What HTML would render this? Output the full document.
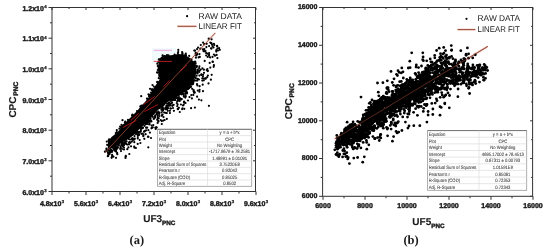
<!DOCTYPE html>
<html><head><meta charset="utf-8"><style>
html,body{margin:0;padding:0;background:#fff}
body{width:550px;height:252px;overflow:hidden;font-family:"Liberation Sans",sans-serif}
svg{display:block;will-change:transform;text-rendering:geometricPrecision}
</style></head><body>
<svg width="550" height="252" viewBox="0 0 550 252">
<rect width="550" height="252" fill="#fff"/>
<rect x="152" y="48" width="24" height="16" fill="#f2fbfb"/>
<line x1="153.7" y1="50.3" x2="172" y2="50.3" stroke="#f08ad8" stroke-width="0.8"/>
<line x1="105" y1="152.6" x2="215.3" y2="32.9" stroke="#f4c6c0" stroke-width="2.6" opacity="0.5"/>
<polygon points="107.5,153.0 108.0,141.5 111.5,137.0 116.0,133.5 119.5,130.0 122.0,125.0 125.5,122.5 129.0,119.0 132.5,115.5 137.5,110.5 141.0,106.0 145.0,102.0 149.0,97.0 153.0,89.0 156.5,84.0 160.0,79.0 159.5,75.5 158.0,71.0 157.5,67.5 158.5,64.0 159.5,59.0 161.0,57.0 164.0,55.0 168.6,55.5 173.0,55.0 178.0,54.0 184.0,54.5 190.0,58.0 195.0,63.0 196.5,70.0 195.5,77.0 192.0,83.0 188.0,88.0 184.0,92.5 179.0,96.0 173.0,98.5 168.5,101.5 165.5,104.0 162.5,108.0 158.5,109.5 155.0,113.5 151.0,118.0 147.0,122.5 143.0,126.0 138.5,130.0 134.5,134.5 128.5,139.0 121.5,143.0 114.5,147.0 109.5,149.5" fill="#000"/>
<g fill="#000"><circle cx="157.7" cy="117.0" r="1.1"/><circle cx="108.6" cy="140.5" r="1.1"/><circle cx="183.8" cy="95.7" r="1.1"/><circle cx="137.8" cy="138.5" r="1.1"/><circle cx="125.3" cy="143.4" r="1.1"/><circle cx="199.7" cy="70.6" r="1.1"/><circle cx="146.1" cy="127.7" r="1.1"/><circle cx="162.7" cy="107.8" r="1.1"/><circle cx="112.1" cy="154.9" r="1.1"/><circle cx="116.0" cy="157.8" r="1.1"/><circle cx="134.2" cy="146.6" r="1.1"/><circle cx="173.8" cy="98.2" r="1.1"/><circle cx="106.6" cy="150.2" r="1.1"/><circle cx="200.7" cy="69.6" r="1.1"/><circle cx="183.9" cy="102.3" r="1.1"/><circle cx="187.6" cy="88.8" r="1.1"/><circle cx="197.0" cy="80.7" r="1.1"/><circle cx="157.6" cy="123.0" r="1.1"/><circle cx="149.1" cy="96.5" r="1.1"/><circle cx="190.0" cy="86.3" r="1.1"/><circle cx="166.5" cy="107.2" r="1.1"/><circle cx="158.3" cy="62.0" r="1.1"/><circle cx="177.9" cy="53.1" r="1.1"/><circle cx="195.7" cy="78.0" r="1.1"/><circle cx="158.8" cy="78.2" r="1.1"/><circle cx="139.1" cy="134.8" r="1.1"/><circle cx="116.6" cy="149.2" r="1.1"/><circle cx="124.9" cy="122.7" r="1.1"/><circle cx="168.0" cy="105.5" r="1.1"/><circle cx="145.8" cy="124.1" r="1.1"/><circle cx="157.9" cy="115.3" r="1.1"/><circle cx="131.0" cy="146.3" r="1.1"/><circle cx="182.5" cy="53.2" r="1.1"/><circle cx="175.1" cy="97.6" r="1.1"/><circle cx="198.1" cy="79.3" r="1.1"/><circle cx="126.6" cy="141.4" r="1.1"/><circle cx="157.8" cy="70.0" r="1.1"/><circle cx="178.4" cy="98.2" r="1.1"/><circle cx="171.6" cy="100.3" r="1.1"/><circle cx="182.2" cy="109.2" r="1.1"/><circle cx="177.7" cy="98.5" r="1.1"/><circle cx="127.3" cy="149.2" r="1.1"/><circle cx="194.6" cy="80.5" r="1.1"/><circle cx="148.5" cy="136.8" r="1.1"/><circle cx="199.4" cy="66.3" r="1.1"/><circle cx="149.3" cy="121.2" r="1.1"/><circle cx="125.7" cy="156.5" r="1.1"/><circle cx="197.4" cy="71.5" r="1.1"/><circle cx="112.8" cy="156.5" r="1.1"/><circle cx="144.0" cy="131.5" r="1.1"/><circle cx="130.2" cy="139.5" r="1.1"/><circle cx="190.4" cy="86.9" r="1.1"/><circle cx="132.5" cy="115.3" r="1.1"/><circle cx="166.4" cy="105.5" r="1.1"/><circle cx="173.6" cy="100.0" r="1.1"/><circle cx="198.9" cy="79.5" r="1.1"/><circle cx="124.1" cy="144.9" r="1.1"/><circle cx="155.2" cy="116.7" r="1.1"/><circle cx="201.4" cy="100.3" r="1.1"/><circle cx="194.0" cy="92.7" r="1.1"/><circle cx="143.4" cy="135.2" r="1.1"/><circle cx="177.3" cy="106.2" r="1.1"/><circle cx="151.7" cy="89.9" r="1.1"/><circle cx="185.3" cy="97.6" r="1.1"/><circle cx="178.2" cy="52.1" r="1.1"/><circle cx="178.9" cy="107.8" r="1.1"/><circle cx="197.0" cy="84.2" r="1.1"/><circle cx="116.8" cy="132.2" r="1.1"/><circle cx="144.6" cy="125.8" r="1.1"/><circle cx="140.8" cy="130.1" r="1.1"/><circle cx="150.7" cy="120.8" r="1.1"/><circle cx="174.6" cy="54.5" r="1.1"/><circle cx="151.5" cy="128.3" r="1.1"/><circle cx="115.4" cy="147.7" r="1.1"/><circle cx="157.3" cy="63.7" r="1.1"/><circle cx="130.4" cy="142.8" r="1.1"/><circle cx="158.3" cy="120.9" r="1.1"/><circle cx="189.3" cy="86.5" r="1.1"/><circle cx="138.8" cy="134.4" r="1.1"/><circle cx="114.9" cy="148.4" r="1.1"/><circle cx="163.7" cy="108.5" r="1.1"/><circle cx="199.1" cy="68.1" r="1.1"/><circle cx="158.9" cy="112.8" r="1.1"/><circle cx="197.4" cy="85.5" r="1.1"/><circle cx="167.2" cy="108.4" r="1.1"/><circle cx="184.5" cy="102.7" r="1.1"/><circle cx="166.8" cy="118.9" r="1.1"/><circle cx="138.6" cy="134.8" r="1.1"/><circle cx="148.4" cy="130.2" r="1.1"/><circle cx="106.4" cy="148.7" r="1.1"/><circle cx="192.3" cy="83.6" r="1.1"/><circle cx="116.1" cy="151.2" r="1.1"/><circle cx="158.4" cy="121.6" r="1.1"/><circle cx="176.7" cy="97.3" r="1.1"/><circle cx="159.2" cy="74.7" r="1.1"/><circle cx="181.6" cy="94.3" r="1.1"/><circle cx="178.7" cy="100.6" r="1.1"/><circle cx="165.9" cy="109.3" r="1.1"/><circle cx="162.7" cy="110.8" r="1.1"/><circle cx="167.8" cy="108.3" r="1.1"/><circle cx="109.0" cy="153.2" r="1.1"/><circle cx="181.4" cy="99.3" r="1.1"/><circle cx="167.7" cy="107.9" r="1.1"/><circle cx="182.6" cy="93.8" r="1.1"/><circle cx="158.0" cy="72.7" r="1.1"/><circle cx="125.9" cy="141.6" r="1.1"/><circle cx="142.9" cy="127.8" r="1.1"/><circle cx="185.8" cy="96.2" r="1.1"/><circle cx="137.7" cy="134.9" r="1.1"/><circle cx="178.5" cy="99.5" r="1.1"/><circle cx="187.1" cy="92.9" r="1.1"/><circle cx="132.9" cy="139.3" r="1.1"/><circle cx="197.5" cy="69.7" r="1.1"/><circle cx="161.8" cy="121.1" r="1.1"/><circle cx="138.2" cy="132.1" r="1.1"/><circle cx="178.5" cy="99.4" r="1.1"/><circle cx="189.1" cy="88.2" r="1.1"/><circle cx="129.0" cy="144.4" r="1.1"/><circle cx="190.5" cy="86.6" r="1.1"/><circle cx="149.9" cy="94.9" r="1.1"/><circle cx="120.9" cy="127.1" r="1.1"/><circle cx="117.1" cy="152.9" r="1.1"/><circle cx="169.9" cy="113.1" r="1.1"/><circle cx="135.9" cy="148.0" r="1.1"/><circle cx="169.0" cy="102.5" r="1.1"/><circle cx="192.4" cy="84.2" r="1.1"/><circle cx="177.2" cy="101.2" r="1.1"/><circle cx="190.6" cy="86.9" r="1.1"/><circle cx="106.8" cy="151.0" r="1.1"/><circle cx="176.8" cy="98.1" r="1.1"/><circle cx="132.5" cy="138.4" r="1.1"/><circle cx="153.3" cy="125.1" r="1.1"/><circle cx="194.3" cy="91.8" r="1.1"/><circle cx="160.7" cy="120.0" r="1.1"/><circle cx="128.9" cy="139.0" r="1.1"/><circle cx="109.1" cy="139.4" r="1.1"/><circle cx="201.4" cy="74.9" r="1.1"/><circle cx="158.5" cy="111.5" r="1.1"/><circle cx="202.9" cy="76.6" r="1.1"/><circle cx="162.5" cy="108.6" r="1.1"/><circle cx="203.8" cy="80.3" r="1.1"/><circle cx="162.5" cy="114.5" r="1.1"/><circle cx="183.4" cy="94.1" r="1.1"/><circle cx="197.5" cy="71.9" r="1.1"/><circle cx="122.5" cy="120.2" r="1.1"/><circle cx="148.1" cy="121.9" r="1.1"/><circle cx="199.4" cy="75.6" r="1.1"/><circle cx="202.3" cy="78.3" r="1.1"/><circle cx="167.0" cy="109.0" r="1.1"/><circle cx="182.3" cy="54.2" r="1.1"/><circle cx="157.5" cy="81.9" r="1.1"/><circle cx="154.9" cy="117.4" r="1.1"/><circle cx="157.8" cy="65.9" r="1.1"/><circle cx="132.1" cy="115.6" r="1.1"/><circle cx="134.5" cy="136.1" r="1.1"/><circle cx="164.6" cy="120.0" r="1.1"/><circle cx="199.6" cy="86.2" r="1.1"/><circle cx="152.8" cy="116.8" r="1.1"/><circle cx="193.1" cy="81.9" r="1.1"/><circle cx="155.7" cy="128.9" r="1.1"/><circle cx="140.3" cy="106.4" r="1.1"/><circle cx="181.7" cy="99.1" r="1.1"/><circle cx="163.2" cy="120.6" r="1.1"/><circle cx="167.1" cy="108.6" r="1.1"/><circle cx="161.8" cy="124.1" r="1.1"/><circle cx="141.1" cy="128.3" r="1.1"/><circle cx="204.0" cy="72.8" r="1.1"/><circle cx="136.0" cy="134.1" r="1.1"/><circle cx="128.0" cy="119.9" r="1.1"/><circle cx="141.2" cy="128.1" r="1.1"/><circle cx="119.4" cy="128.7" r="1.1"/><circle cx="110.9" cy="151.1" r="1.1"/><circle cx="117.3" cy="154.2" r="1.1"/><circle cx="116.8" cy="130.2" r="1.1"/><circle cx="188.5" cy="88.2" r="1.1"/><circle cx="153.8" cy="86.5" r="1.1"/><circle cx="163.5" cy="117.1" r="1.1"/><circle cx="121.6" cy="143.0" r="1.1"/><circle cx="107.8" cy="156.2" r="1.1"/><circle cx="114.1" cy="148.9" r="1.1"/><circle cx="134.5" cy="147.7" r="1.1"/><circle cx="161.4" cy="109.7" r="1.1"/><circle cx="114.3" cy="150.4" r="1.1"/><circle cx="134.8" cy="138.7" r="1.1"/><circle cx="118.7" cy="145.0" r="1.1"/><circle cx="159.4" cy="116.0" r="1.1"/><circle cx="169.1" cy="105.7" r="1.1"/><circle cx="136.0" cy="132.9" r="1.1"/><circle cx="141.6" cy="128.7" r="1.1"/><circle cx="208.5" cy="83.4" r="1.1"/><circle cx="148.5" cy="121.5" r="1.1"/><circle cx="115.8" cy="133.1" r="1.1"/><circle cx="134.2" cy="139.6" r="1.1"/><circle cx="139.2" cy="132.2" r="1.1"/><circle cx="195.6" cy="65.4" r="1.1"/><circle cx="191.1" cy="108.2" r="1.1"/><circle cx="192.0" cy="83.8" r="1.1"/><circle cx="164.2" cy="112.6" r="1.1"/><circle cx="110.1" cy="152.6" r="1.1"/><circle cx="166.8" cy="108.4" r="1.1"/><circle cx="186.8" cy="93.6" r="1.1"/><circle cx="186.2" cy="90.5" r="1.1"/><circle cx="161.5" cy="112.4" r="1.1"/><circle cx="158.8" cy="59.6" r="1.1"/><circle cx="184.1" cy="101.7" r="1.1"/><circle cx="199.6" cy="89.8" r="1.1"/><circle cx="199.2" cy="72.0" r="1.1"/><circle cx="173.9" cy="110.8" r="1.1"/><circle cx="147.6" cy="122.8" r="1.1"/><circle cx="183.9" cy="96.7" r="1.1"/><circle cx="137.7" cy="143.9" r="1.1"/><circle cx="207.4" cy="69.0" r="1.1"/><circle cx="170.4" cy="101.0" r="1.1"/><circle cx="163.6" cy="109.3" r="1.1"/><circle cx="193.5" cy="91.1" r="1.1"/><circle cx="159.2" cy="59.4" r="1.1"/><circle cx="111.7" cy="150.0" r="1.1"/><circle cx="172.2" cy="99.9" r="1.1"/><circle cx="152.3" cy="89.5" r="1.1"/><circle cx="106.8" cy="150.1" r="1.1"/><circle cx="180.1" cy="98.4" r="1.1"/><circle cx="177.6" cy="98.4" r="1.1"/><circle cx="189.5" cy="97.1" r="1.1"/><circle cx="112.0" cy="156.3" r="1.1"/><circle cx="132.1" cy="139.3" r="1.1"/><circle cx="185.2" cy="94.1" r="1.1"/><circle cx="157.5" cy="113.0" r="1.1"/><circle cx="125.8" cy="155.9" r="1.1"/><circle cx="208.9" cy="105.8" r="1.1"/><circle cx="159.2" cy="114.0" r="1.1"/><circle cx="109.3" cy="151.0" r="1.1"/><circle cx="120.2" cy="148.9" r="1.1"/><circle cx="111.9" cy="150.9" r="1.1"/><circle cx="114.0" cy="148.0" r="1.1"/><circle cx="195.2" cy="61.5" r="1.1"/><circle cx="193.0" cy="83.8" r="1.1"/><circle cx="144.3" cy="138.8" r="1.1"/><circle cx="168.9" cy="103.2" r="1.1"/><circle cx="170.3" cy="105.4" r="1.1"/><circle cx="115.8" cy="148.7" r="1.1"/><circle cx="142.9" cy="127.7" r="1.1"/><circle cx="171.6" cy="103.3" r="1.1"/><circle cx="197.0" cy="72.7" r="1.1"/><circle cx="179.8" cy="99.4" r="1.1"/><circle cx="150.5" cy="118.6" r="1.1"/><circle cx="162.6" cy="55.3" r="1.1"/><circle cx="146.8" cy="123.5" r="1.1"/><circle cx="137.8" cy="137.0" r="1.1"/><circle cx="196.6" cy="67.1" r="1.1"/><circle cx="108.6" cy="154.2" r="1.1"/><circle cx="187.3" cy="89.2" r="1.1"/><circle cx="191.9" cy="98.4" r="1.1"/><circle cx="120.1" cy="126.5" r="1.1"/><circle cx="145.1" cy="130.8" r="1.1"/><circle cx="137.1" cy="132.9" r="1.1"/><circle cx="123.9" cy="147.5" r="1.1"/><circle cx="106.8" cy="141.6" r="1.1"/><circle cx="193.3" cy="82.1" r="1.1"/><circle cx="113.4" cy="156.6" r="1.1"/><circle cx="139.7" cy="140.0" r="1.1"/><circle cx="151.0" cy="138.0" r="1.1"/><circle cx="149.6" cy="95.1" r="1.1"/><circle cx="203.9" cy="69.7" r="1.1"/><circle cx="188.1" cy="88.8" r="1.1"/><circle cx="159.3" cy="76.1" r="1.1"/><circle cx="168.3" cy="105.4" r="1.1"/><circle cx="115.8" cy="146.6" r="1.1"/><circle cx="191.3" cy="95.1" r="1.1"/><circle cx="124.0" cy="149.4" r="1.1"/><circle cx="204.0" cy="78.6" r="1.1"/><circle cx="110.5" cy="150.1" r="1.1"/><circle cx="190.7" cy="86.6" r="1.1"/><circle cx="152.8" cy="127.3" r="1.1"/><circle cx="151.0" cy="92.7" r="1.1"/><circle cx="207.2" cy="77.2" r="1.1"/><circle cx="174.8" cy="98.7" r="1.1"/><circle cx="132.7" cy="139.0" r="1.1"/><circle cx="140.8" cy="131.4" r="1.1"/><circle cx="194.9" cy="107.6" r="1.1"/><circle cx="115.1" cy="148.7" r="1.1"/><circle cx="122.2" cy="142.7" r="1.1"/><circle cx="182.5" cy="108.3" r="1.1"/><circle cx="118.5" cy="145.4" r="1.1"/><circle cx="114.7" cy="149.2" r="1.1"/><circle cx="121.0" cy="151.1" r="1.1"/><circle cx="154.3" cy="118.2" r="1.1"/><circle cx="155.2" cy="115.4" r="1.1"/><circle cx="156.5" cy="127.4" r="1.1"/><circle cx="184.3" cy="108.8" r="1.1"/><circle cx="125.2" cy="141.5" r="1.1"/><circle cx="143.3" cy="136.2" r="1.1"/><circle cx="168.5" cy="55.4" r="1.1"/><circle cx="144.3" cy="131.6" r="1.1"/><circle cx="118.6" cy="145.2" r="1.1"/><circle cx="140.4" cy="143.0" r="1.1"/><circle cx="147.3" cy="123.8" r="1.1"/><circle cx="107.9" cy="152.8" r="1.1"/><circle cx="157.5" cy="112.7" r="1.1"/><circle cx="139.8" cy="132.6" r="1.1"/><circle cx="177.6" cy="104.3" r="1.1"/><circle cx="194.2" cy="61.9" r="1.1"/><circle cx="165.8" cy="107.8" r="1.1"/><circle cx="150.5" cy="120.2" r="1.1"/><circle cx="207.9" cy="75.5" r="1.1"/><circle cx="123.0" cy="146.7" r="1.1"/><circle cx="172.0" cy="102.4" r="1.1"/><circle cx="179.8" cy="112.0" r="1.1"/><circle cx="148.5" cy="94.4" r="1.1"/><circle cx="186.8" cy="92.2" r="1.1"/><circle cx="134.3" cy="142.2" r="1.1"/><circle cx="185.4" cy="54.9" r="1.1"/><circle cx="185.8" cy="53.5" r="1.1"/><circle cx="120.6" cy="146.9" r="1.1"/><circle cx="175.1" cy="100.0" r="1.1"/><circle cx="117.4" cy="147.3" r="1.1"/><circle cx="121.2" cy="145.2" r="1.1"/><circle cx="129.0" cy="142.8" r="1.1"/><circle cx="115.3" cy="149.4" r="1.1"/><circle cx="122.4" cy="144.6" r="1.1"/><circle cx="203.0" cy="91.2" r="1.1"/><circle cx="156.9" cy="112.5" r="1.1"/><circle cx="170.9" cy="108.5" r="1.1"/><circle cx="193.3" cy="94.9" r="1.1"/><circle cx="145.6" cy="134.2" r="1.1"/><circle cx="172.1" cy="99.6" r="1.1"/><circle cx="126.2" cy="143.9" r="1.1"/><circle cx="179.0" cy="99.2" r="1.1"/><circle cx="157.0" cy="72.4" r="1.1"/><circle cx="108.6" cy="154.2" r="1.1"/><circle cx="124.5" cy="142.8" r="1.1"/><circle cx="152.0" cy="89.4" r="1.1"/><circle cx="149.1" cy="120.9" r="1.1"/><circle cx="108.2" cy="155.9" r="1.1"/><circle cx="193.2" cy="83.3" r="1.1"/><circle cx="137.0" cy="111.0" r="1.1"/><circle cx="190.8" cy="84.5" r="1.1"/><circle cx="122.2" cy="144.4" r="1.1"/><circle cx="123.9" cy="143.0" r="1.1"/><circle cx="189.2" cy="55.9" r="1.1"/><circle cx="133.0" cy="140.0" r="1.1"/><circle cx="186.0" cy="55.3" r="1.1"/><circle cx="148.3" cy="147.3" r="1.1"/><circle cx="197.2" cy="78.8" r="1.1"/><circle cx="117.6" cy="147.8" r="1.1"/><circle cx="153.7" cy="118.9" r="1.1"/><circle cx="198.1" cy="70.4" r="1.1"/><circle cx="123.4" cy="144.0" r="1.1"/><circle cx="192.4" cy="82.7" r="1.1"/><circle cx="178.3" cy="49.9" r="1.1"/><circle cx="155.3" cy="127.5" r="1.1"/><circle cx="195.6" cy="63.2" r="1.1"/><circle cx="109.8" cy="151.6" r="1.1"/><circle cx="122.0" cy="149.0" r="1.1"/><circle cx="199.4" cy="91.7" r="1.1"/><circle cx="129.3" cy="154.0" r="1.1"/><circle cx="156.6" cy="112.9" r="1.1"/><circle cx="157.2" cy="119.8" r="1.1"/><circle cx="169.7" cy="104.4" r="1.1"/><circle cx="172.3" cy="105.8" r="1.1"/><circle cx="179.0" cy="97.0" r="1.1"/><circle cx="167.0" cy="55.0" r="1.1"/><circle cx="166.8" cy="113.1" r="1.1"/><circle cx="141.5" cy="105.5" r="1.1"/><circle cx="202.3" cy="80.6" r="1.1"/><circle cx="207.7" cy="71.1" r="1.1"/><circle cx="193.8" cy="80.2" r="1.1"/><circle cx="156.7" cy="114.5" r="1.1"/><circle cx="157.2" cy="82.2" r="1.1"/><circle cx="112.9" cy="147.8" r="1.1"/><circle cx="151.6" cy="125.5" r="1.1"/><circle cx="137.7" cy="131.6" r="1.1"/><circle cx="165.6" cy="107.5" r="1.1"/><circle cx="198.9" cy="99.6" r="1.1"/><circle cx="129.6" cy="141.8" r="1.1"/><circle cx="167.3" cy="107.7" r="1.1"/><circle cx="179.7" cy="99.5" r="1.1"/><circle cx="149.0" cy="121.7" r="1.1"/><circle cx="172.6" cy="105.4" r="1.1"/><circle cx="147.2" cy="127.7" r="1.1"/><circle cx="197.1" cy="96.7" r="1.1"/><circle cx="111.9" cy="151.9" r="1.1"/><circle cx="180.9" cy="104.5" r="1.1"/><circle cx="176.4" cy="97.7" r="1.1"/><circle cx="114.2" cy="149.1" r="1.1"/><circle cx="185.1" cy="91.6" r="1.1"/><circle cx="197.6" cy="73.4" r="1.1"/><circle cx="196.9" cy="66.2" r="1.1"/><circle cx="147.5" cy="98.8" r="1.1"/><circle cx="202.4" cy="68.4" r="1.1"/><circle cx="111.6" cy="157.8" r="1.1"/><circle cx="159.9" cy="78.5" r="1.1"/><circle cx="193.7" cy="90.1" r="1.1"/><circle cx="132.5" cy="114.6" r="1.1"/><circle cx="159.2" cy="113.2" r="1.1"/><circle cx="149.2" cy="124.4" r="1.1"/><circle cx="116.2" cy="147.9" r="1.1"/><circle cx="170.6" cy="103.5" r="1.1"/><circle cx="107.2" cy="144.9" r="1.1"/><circle cx="157.7" cy="118.4" r="1.1"/><circle cx="149.8" cy="121.8" r="1.1"/><circle cx="173.5" cy="99.0" r="1.1"/><circle cx="133.3" cy="138.8" r="1.1"/><circle cx="138.3" cy="134.4" r="1.1"/><circle cx="146.1" cy="130.3" r="1.1"/><circle cx="167.1" cy="103.5" r="1.1"/><circle cx="147.7" cy="122.1" r="1.1"/><circle cx="127.2" cy="144.6" r="1.1"/><circle cx="180.9" cy="98.9" r="1.1"/><circle cx="146.9" cy="98.6" r="1.1"/><circle cx="149.6" cy="124.0" r="1.1"/><circle cx="120.7" cy="147.5" r="1.1"/><circle cx="152.1" cy="89.9" r="1.1"/><circle cx="131.9" cy="141.6" r="1.1"/><circle cx="163.0" cy="110.1" r="1.1"/><circle cx="201.4" cy="74.4" r="1.1"/><circle cx="110.4" cy="151.8" r="1.1"/><circle cx="121.5" cy="124.8" r="1.1"/><circle cx="123.3" cy="145.7" r="1.1"/><circle cx="191.6" cy="84.5" r="1.1"/><circle cx="170.3" cy="108.4" r="1.1"/><circle cx="104.9" cy="151.7" r="1.1"/><circle cx="195.3" cy="77.5" r="1.1"/><circle cx="158.7" cy="118.2" r="1.1"/><circle cx="109.5" cy="154.1" r="1.1"/><circle cx="147.9" cy="136.7" r="1.1"/><circle cx="151.4" cy="121.4" r="1.1"/><circle cx="146.3" cy="123.8" r="1.1"/><circle cx="128.4" cy="147.4" r="1.1"/><circle cx="169.9" cy="110.8" r="1.1"/><circle cx="182.1" cy="52.0" r="1.1"/><circle cx="125.5" cy="157.9" r="1.1"/><circle cx="141.5" cy="133.8" r="1.1"/><circle cx="162.2" cy="115.2" r="1.1"/><circle cx="195.2" cy="80.5" r="1.1"/><circle cx="196.6" cy="75.7" r="1.1"/><circle cx="162.0" cy="109.6" r="1.1"/><circle cx="117.7" cy="147.4" r="1.1"/><circle cx="149.3" cy="95.1" r="1.1"/><circle cx="192.2" cy="88.8" r="1.1"/><circle cx="125.3" cy="121.5" r="1.1"/><circle cx="167.1" cy="105.7" r="1.1"/><circle cx="191.5" cy="59.4" r="1.1"/><circle cx="132.2" cy="138.4" r="1.1"/><circle cx="175.0" cy="99.9" r="1.1"/><circle cx="210.9" cy="79.7" r="1.1"/><circle cx="116.4" cy="146.9" r="1.1"/><circle cx="142.8" cy="133.6" r="1.1"/><circle cx="115.5" cy="151.3" r="1.1"/><circle cx="146.1" cy="123.6" r="1.1"/><circle cx="213.9" cy="54.5" r="1.1"/><circle cx="197.4" cy="54.3" r="1.1"/><circle cx="209.1" cy="46.1" r="1.1"/><circle cx="211.5" cy="43.4" r="1.1"/><circle cx="202.9" cy="49.3" r="1.1"/><circle cx="212.6" cy="46.4" r="1.1"/><circle cx="209.1" cy="53.0" r="1.1"/><circle cx="216.3" cy="50.2" r="1.1"/><circle cx="211.0" cy="48.3" r="1.1"/><circle cx="213.5" cy="47.5" r="1.1"/><circle cx="219.1" cy="48.2" r="1.1"/><circle cx="208.7" cy="38.7" r="1.1"/><circle cx="216.3" cy="51.6" r="1.1"/><circle cx="196.9" cy="53.7" r="1.1"/><circle cx="196.2" cy="55.4" r="1.1"/><circle cx="198.6" cy="57.4" r="1.1"/><circle cx="212.1" cy="44.7" r="1.1"/><circle cx="195.1" cy="50.6" r="1.1"/><circle cx="217.0" cy="45.8" r="1.1"/><circle cx="212.5" cy="56.9" r="1.1"/><circle cx="195.7" cy="53.9" r="1.1"/><circle cx="211.0" cy="43.0" r="1.1"/><circle cx="206.2" cy="55.5" r="1.1"/><circle cx="209.1" cy="55.7" r="1.1"/><circle cx="204.4" cy="49.1" r="1.1"/><circle cx="204.2" cy="44.2" r="1.1"/><circle cx="206.4" cy="47.1" r="1.1"/><circle cx="214.3" cy="45.1" r="1.1"/><circle cx="207.3" cy="53.6" r="1.1"/><circle cx="198.1" cy="47.5" r="1.1"/><circle cx="218.0" cy="50.5" r="1.1"/><circle cx="199.5" cy="54.1" r="1.1"/><circle cx="195.9" cy="57.7" r="1.1"/><circle cx="197.1" cy="49.1" r="1.1"/><circle cx="206.1" cy="53.1" r="1.1"/><circle cx="210.1" cy="57.4" r="1.1"/><circle cx="217.3" cy="46.4" r="1.1"/><circle cx="200.3" cy="48.7" r="1.1"/><circle cx="194.3" cy="50.6" r="1.1"/><circle cx="203.6" cy="51.2" r="1.1"/><circle cx="204.8" cy="51.3" r="1.1"/><circle cx="203.5" cy="49.8" r="1.1"/><circle cx="211.6" cy="39.3" r="1.1"/><circle cx="200.8" cy="45.0" r="1.1"/><circle cx="203.1" cy="42.6" r="1.1"/><circle cx="206.7" cy="43.8" r="1.1"/><circle cx="210.3" cy="42.6" r="1.1"/><circle cx="213.9" cy="43.8" r="1.1"/><circle cx="217.4" cy="48.6" r="1.1"/><circle cx="219.8" cy="49.8" r="1.1"/><circle cx="211.5" cy="48.6" r="1.1"/><circle cx="205.5" cy="51.0" r="1.1"/><circle cx="209.0" cy="54.5" r="1.1"/><circle cx="215.0" cy="55.7" r="1.1"/><circle cx="217.4" cy="58.1" r="1.1"/><circle cx="212.7" cy="61.7" r="1.1"/><circle cx="210.3" cy="67.6" r="1.1"/><circle cx="206.7" cy="70.0" r="1.1"/><circle cx="203.1" cy="74.8" r="1.1"/><circle cx="205.5" cy="78.3" r="1.1"/><circle cx="213.9" cy="65.2" r="1.1"/><circle cx="195.8" cy="52.9" r="1.1"/><circle cx="199.8" cy="56.9" r="1.1"/><circle cx="204.7" cy="60.9" r="1.1"/><circle cx="207.7" cy="56.9" r="1.1"/><circle cx="209.7" cy="62.9" r="1.1"/><circle cx="212.7" cy="61.9" r="1.1"/><circle cx="216.6" cy="54.9" r="1.1"/><circle cx="213.7" cy="66.8" r="1.1"/><circle cx="207.7" cy="70.8" r="1.1"/><circle cx="205.7" cy="78.7" r="1.1"/><circle cx="202.7" cy="84.7" r="1.1"/><circle cx="197.8" cy="90.6" r="1.1"/><circle cx="194.8" cy="92.6" r="1.1"/><circle cx="211.7" cy="74.8" r="1.1"/><circle cx="175.7" cy="96.9" r="1.1"/><circle cx="179.7" cy="100.9" r="1.1"/><circle cx="173.7" cy="104.8" r="1.1"/><circle cx="183.7" cy="104.8" r="1.1"/><circle cx="177.7" cy="108.8" r="1.1"/><circle cx="167.8" cy="110.8" r="1.1"/><circle cx="165.8" cy="112.8" r="1.1"/><circle cx="161.8" cy="115.8" r="1.1"/><circle cx="151.9" cy="127.7" r="1.1"/><circle cx="149.9" cy="132.6" r="1.1"/><circle cx="185.6" cy="92.9" r="1.1"/><circle cx="165.5" cy="100.5" r="1.1"/><circle cx="168.0" cy="105.5" r="1.1"/><circle cx="173.0" cy="108.0" r="1.1"/><circle cx="178.0" cy="109.2" r="1.1"/><circle cx="176.8" cy="103.0" r="1.1"/><circle cx="183.0" cy="105.5" r="1.1"/><circle cx="185.5" cy="103.0" r="1.1"/><circle cx="188.0" cy="100.5" r="1.1"/><circle cx="156.5" cy="127.5" r="1.1"/><circle cx="150.0" cy="88.8" r="1.1"/><circle cx="152.5" cy="85.0" r="1.1"/><circle cx="141.2" cy="96.2" r="1.1"/></g>
<line x1="153.7" y1="61.4" x2="172" y2="61.4" stroke="#e0202c" stroke-width="0.8"/>
<line x1="105" y1="152.6" x2="215.3" y2="32.9" stroke="#944631" stroke-width="0.9"/>
<line x1="122.9" y1="127.5" x2="136.4" y2="120.4" stroke="#d01818" stroke-width="0.8"/>
<line x1="130.9" y1="120.4" x2="138.8" y2="113.3" stroke="#d01818" stroke-width="0.8"/>
<line x1="144.4" y1="111.7" x2="157.9" y2="104.5" stroke="#d01818" stroke-width="0.8"/>
<line x1="143.6" y1="104.5" x2="154.7" y2="96.6" stroke="#d01818" stroke-width="0.8"/>
<line x1="163.2" y1="86.9" x2="169.5" y2="80.6" stroke="#d01818" stroke-width="0.8"/>
<line x1="180.5" y1="71.2" x2="186.7" y2="65" stroke="#d01818" stroke-width="0.8"/>
<line x1="334.8" y1="138.8" x2="487.8" y2="46.4" stroke="#f4c6c0" stroke-width="2.6" opacity="0.6"/>
<line x1="334.8" y1="138.8" x2="487.8" y2="46.4" stroke="#944631" stroke-width="0.9"/>
<g fill="#000"><circle cx="426.9" cy="77.3" r="1.4"/><circle cx="466.0" cy="72.4" r="1.4"/><circle cx="422.3" cy="91.4" r="1.4"/><circle cx="403.0" cy="71.8" r="1.4"/><circle cx="358.1" cy="140.3" r="1.4"/><circle cx="373.5" cy="103.9" r="1.4"/><circle cx="455.2" cy="79.6" r="1.4"/><circle cx="451.9" cy="75.8" r="1.4"/><circle cx="344.6" cy="130.5" r="1.4"/><circle cx="480.4" cy="70.2" r="1.4"/><circle cx="336.1" cy="147.3" r="1.4"/><circle cx="426.9" cy="82.4" r="1.4"/><circle cx="469.3" cy="82.3" r="1.4"/><circle cx="398.1" cy="92.4" r="1.4"/><circle cx="374.5" cy="120.7" r="1.4"/><circle cx="405.8" cy="95.7" r="1.4"/><circle cx="420.3" cy="85.9" r="1.4"/><circle cx="347.3" cy="132.3" r="1.4"/><circle cx="406.5" cy="105.8" r="1.4"/><circle cx="369.4" cy="109.2" r="1.4"/><circle cx="397.8" cy="85.4" r="1.4"/><circle cx="445.2" cy="60.6" r="1.4"/><circle cx="407.6" cy="90.6" r="1.4"/><circle cx="417.1" cy="76.7" r="1.4"/><circle cx="377.5" cy="123.2" r="1.4"/><circle cx="373.8" cy="116.8" r="1.4"/><circle cx="349.5" cy="130.7" r="1.4"/><circle cx="425.2" cy="91.8" r="1.4"/><circle cx="435.1" cy="83.3" r="1.4"/><circle cx="374.5" cy="104.0" r="1.4"/><circle cx="364.1" cy="128.3" r="1.4"/><circle cx="359.3" cy="129.3" r="1.4"/><circle cx="397.1" cy="91.7" r="1.4"/><circle cx="363.4" cy="118.3" r="1.4"/><circle cx="378.6" cy="122.9" r="1.4"/><circle cx="469.0" cy="87.5" r="1.4"/><circle cx="391.6" cy="110.9" r="1.4"/><circle cx="447.8" cy="73.1" r="1.4"/><circle cx="360.2" cy="139.0" r="1.4"/><circle cx="358.9" cy="144.7" r="1.4"/><circle cx="384.0" cy="96.9" r="1.4"/><circle cx="349.5" cy="144.2" r="1.4"/><circle cx="350.3" cy="131.9" r="1.4"/><circle cx="440.1" cy="77.2" r="1.4"/><circle cx="415.4" cy="90.2" r="1.4"/><circle cx="435.1" cy="89.5" r="1.4"/><circle cx="381.0" cy="117.2" r="1.4"/><circle cx="363.8" cy="127.8" r="1.4"/><circle cx="383.5" cy="102.8" r="1.4"/><circle cx="409.6" cy="104.1" r="1.4"/><circle cx="350.9" cy="128.6" r="1.4"/><circle cx="373.0" cy="128.1" r="1.4"/><circle cx="394.5" cy="104.2" r="1.4"/><circle cx="340.5" cy="147.2" r="1.4"/><circle cx="401.1" cy="94.2" r="1.4"/><circle cx="373.8" cy="114.1" r="1.4"/><circle cx="410.0" cy="100.8" r="1.4"/><circle cx="354.8" cy="124.5" r="1.4"/><circle cx="383.0" cy="108.4" r="1.4"/><circle cx="458.4" cy="75.8" r="1.4"/><circle cx="363.4" cy="119.5" r="1.4"/><circle cx="414.1" cy="97.4" r="1.4"/><circle cx="435.0" cy="63.5" r="1.4"/><circle cx="442.2" cy="94.9" r="1.4"/><circle cx="418.2" cy="75.8" r="1.4"/><circle cx="435.4" cy="86.0" r="1.4"/><circle cx="370.3" cy="116.8" r="1.4"/><circle cx="432.7" cy="70.0" r="1.4"/><circle cx="416.3" cy="64.9" r="1.4"/><circle cx="374.6" cy="109.3" r="1.4"/><circle cx="380.1" cy="118.7" r="1.4"/><circle cx="444.9" cy="87.8" r="1.4"/><circle cx="404.7" cy="110.8" r="1.4"/><circle cx="404.6" cy="95.7" r="1.4"/><circle cx="470.7" cy="83.8" r="1.4"/><circle cx="368.4" cy="110.7" r="1.4"/><circle cx="424.0" cy="90.4" r="1.4"/><circle cx="366.6" cy="113.2" r="1.4"/><circle cx="354.7" cy="124.4" r="1.4"/><circle cx="360.2" cy="135.1" r="1.4"/><circle cx="442.2" cy="78.6" r="1.4"/><circle cx="396.3" cy="99.2" r="1.4"/><circle cx="459.2" cy="62.1" r="1.4"/><circle cx="399.7" cy="106.2" r="1.4"/><circle cx="409.6" cy="90.6" r="1.4"/><circle cx="350.9" cy="127.5" r="1.4"/><circle cx="348.5" cy="135.9" r="1.4"/><circle cx="470.8" cy="73.1" r="1.4"/><circle cx="359.0" cy="130.8" r="1.4"/><circle cx="373.7" cy="116.1" r="1.4"/><circle cx="439.3" cy="79.3" r="1.4"/><circle cx="410.8" cy="96.5" r="1.4"/><circle cx="397.6" cy="97.9" r="1.4"/><circle cx="382.2" cy="105.6" r="1.4"/><circle cx="371.2" cy="118.8" r="1.4"/><circle cx="460.5" cy="79.9" r="1.4"/><circle cx="451.6" cy="50.3" r="1.4"/><circle cx="408.9" cy="114.2" r="1.4"/><circle cx="361.1" cy="131.0" r="1.4"/><circle cx="445.8" cy="95.0" r="1.4"/><circle cx="345.5" cy="140.4" r="1.4"/><circle cx="368.8" cy="113.2" r="1.4"/><circle cx="441.4" cy="81.6" r="1.4"/><circle cx="364.3" cy="156.8" r="1.4"/><circle cx="440.5" cy="53.7" r="1.4"/><circle cx="405.5" cy="99.6" r="1.4"/><circle cx="429.5" cy="90.0" r="1.4"/><circle cx="347.8" cy="130.5" r="1.4"/><circle cx="442.7" cy="85.3" r="1.4"/><circle cx="339.1" cy="140.7" r="1.4"/><circle cx="434.3" cy="86.6" r="1.4"/><circle cx="362.7" cy="123.6" r="1.4"/><circle cx="361.2" cy="127.1" r="1.4"/><circle cx="477.3" cy="73.6" r="1.4"/><circle cx="428.6" cy="84.5" r="1.4"/><circle cx="448.6" cy="73.0" r="1.4"/><circle cx="374.7" cy="101.1" r="1.4"/><circle cx="440.0" cy="115.2" r="1.4"/><circle cx="409.2" cy="88.0" r="1.4"/><circle cx="409.0" cy="126.0" r="1.4"/><circle cx="427.7" cy="82.1" r="1.4"/><circle cx="430.0" cy="72.7" r="1.4"/><circle cx="470.2" cy="72.9" r="1.4"/><circle cx="386.9" cy="102.2" r="1.4"/><circle cx="443.0" cy="74.0" r="1.4"/><circle cx="358.4" cy="126.8" r="1.4"/><circle cx="471.6" cy="68.6" r="1.4"/><circle cx="360.9" cy="147.9" r="1.4"/><circle cx="407.9" cy="103.8" r="1.4"/><circle cx="383.8" cy="109.9" r="1.4"/><circle cx="379.5" cy="124.4" r="1.4"/><circle cx="389.8" cy="117.4" r="1.4"/><circle cx="449.2" cy="80.6" r="1.4"/><circle cx="402.8" cy="103.3" r="1.4"/><circle cx="425.5" cy="81.3" r="1.4"/><circle cx="485.8" cy="68.1" r="1.4"/><circle cx="403.4" cy="87.0" r="1.4"/><circle cx="376.5" cy="109.9" r="1.4"/><circle cx="410.4" cy="84.5" r="1.4"/><circle cx="445.5" cy="74.9" r="1.4"/><circle cx="370.9" cy="119.5" r="1.4"/><circle cx="459.3" cy="69.9" r="1.4"/><circle cx="382.4" cy="124.9" r="1.4"/><circle cx="380.7" cy="134.4" r="1.4"/><circle cx="372.0" cy="123.4" r="1.4"/><circle cx="435.7" cy="77.1" r="1.4"/><circle cx="419.8" cy="84.3" r="1.4"/><circle cx="406.8" cy="105.6" r="1.4"/><circle cx="372.0" cy="100.0" r="1.4"/><circle cx="374.4" cy="128.2" r="1.4"/><circle cx="354.9" cy="134.8" r="1.4"/><circle cx="483.6" cy="79.9" r="1.4"/><circle cx="466.7" cy="70.9" r="1.4"/><circle cx="403.7" cy="94.7" r="1.4"/><circle cx="465.6" cy="76.0" r="1.4"/><circle cx="392.1" cy="109.2" r="1.4"/><circle cx="449.1" cy="58.2" r="1.4"/><circle cx="399.5" cy="99.1" r="1.4"/><circle cx="471.8" cy="83.0" r="1.4"/><circle cx="409.8" cy="91.2" r="1.4"/><circle cx="353.3" cy="131.7" r="1.4"/><circle cx="361.5" cy="139.0" r="1.4"/><circle cx="427.5" cy="78.7" r="1.4"/><circle cx="450.0" cy="69.3" r="1.4"/><circle cx="439.5" cy="78.5" r="1.4"/><circle cx="440.1" cy="69.0" r="1.4"/><circle cx="446.8" cy="89.9" r="1.4"/><circle cx="386.4" cy="111.0" r="1.4"/><circle cx="397.8" cy="88.6" r="1.4"/><circle cx="412.4" cy="97.7" r="1.4"/><circle cx="388.0" cy="87.6" r="1.4"/><circle cx="408.1" cy="93.0" r="1.4"/><circle cx="430.4" cy="87.9" r="1.4"/><circle cx="474.1" cy="82.2" r="1.4"/><circle cx="374.6" cy="125.6" r="1.4"/><circle cx="348.1" cy="126.7" r="1.4"/><circle cx="378.3" cy="92.2" r="1.4"/><circle cx="382.4" cy="112.8" r="1.4"/><circle cx="383.3" cy="117.6" r="1.4"/><circle cx="399.0" cy="110.8" r="1.4"/><circle cx="376.2" cy="106.1" r="1.4"/><circle cx="410.1" cy="100.1" r="1.4"/><circle cx="408.3" cy="68.0" r="1.4"/><circle cx="416.6" cy="95.2" r="1.4"/><circle cx="445.4" cy="56.5" r="1.4"/><circle cx="449.8" cy="71.4" r="1.4"/><circle cx="402.7" cy="91.8" r="1.4"/><circle cx="453.3" cy="66.7" r="1.4"/><circle cx="346.0" cy="134.9" r="1.4"/><circle cx="442.2" cy="64.5" r="1.4"/><circle cx="430.2" cy="85.4" r="1.4"/><circle cx="415.1" cy="98.9" r="1.4"/><circle cx="431.5" cy="67.5" r="1.4"/><circle cx="458.8" cy="69.1" r="1.4"/><circle cx="424.0" cy="93.5" r="1.4"/><circle cx="397.2" cy="96.6" r="1.4"/><circle cx="400.2" cy="97.8" r="1.4"/><circle cx="454.7" cy="71.3" r="1.4"/><circle cx="423.9" cy="75.0" r="1.4"/><circle cx="429.6" cy="76.3" r="1.4"/><circle cx="434.5" cy="73.9" r="1.4"/><circle cx="382.1" cy="98.4" r="1.4"/><circle cx="417.8" cy="92.3" r="1.4"/><circle cx="440.4" cy="82.8" r="1.4"/><circle cx="362.2" cy="126.6" r="1.4"/><circle cx="438.1" cy="71.6" r="1.4"/><circle cx="363.6" cy="127.8" r="1.4"/><circle cx="425.0" cy="79.0" r="1.4"/><circle cx="397.0" cy="99.7" r="1.4"/><circle cx="445.5" cy="50.7" r="1.4"/><circle cx="346.9" cy="143.0" r="1.4"/><circle cx="396.9" cy="111.5" r="1.4"/><circle cx="436.6" cy="83.6" r="1.4"/><circle cx="382.5" cy="108.6" r="1.4"/><circle cx="420.6" cy="99.2" r="1.4"/><circle cx="415.7" cy="79.5" r="1.4"/><circle cx="352.5" cy="147.6" r="1.4"/><circle cx="369.2" cy="115.3" r="1.4"/><circle cx="447.5" cy="80.2" r="1.4"/><circle cx="346.8" cy="131.6" r="1.4"/><circle cx="355.9" cy="136.2" r="1.4"/><circle cx="451.4" cy="82.0" r="1.4"/><circle cx="376.7" cy="108.4" r="1.4"/><circle cx="362.4" cy="135.7" r="1.4"/><circle cx="422.6" cy="81.8" r="1.4"/><circle cx="428.2" cy="90.5" r="1.4"/><circle cx="362.0" cy="131.5" r="1.4"/><circle cx="469.8" cy="79.3" r="1.4"/><circle cx="467.2" cy="68.9" r="1.4"/><circle cx="405.0" cy="101.7" r="1.4"/><circle cx="432.3" cy="77.5" r="1.4"/><circle cx="431.7" cy="86.3" r="1.4"/><circle cx="416.2" cy="101.4" r="1.4"/><circle cx="349.4" cy="132.6" r="1.4"/><circle cx="406.3" cy="98.7" r="1.4"/><circle cx="480.6" cy="72.2" r="1.4"/><circle cx="426.6" cy="71.5" r="1.4"/><circle cx="431.9" cy="85.8" r="1.4"/><circle cx="392.0" cy="102.7" r="1.4"/><circle cx="389.3" cy="116.6" r="1.4"/><circle cx="427.8" cy="90.2" r="1.4"/><circle cx="349.6" cy="137.2" r="1.4"/><circle cx="400.0" cy="85.8" r="1.4"/><circle cx="385.4" cy="101.9" r="1.4"/><circle cx="363.6" cy="121.9" r="1.4"/><circle cx="409.6" cy="93.9" r="1.4"/><circle cx="475.0" cy="72.2" r="1.4"/><circle cx="458.1" cy="89.0" r="1.4"/><circle cx="379.5" cy="111.1" r="1.4"/><circle cx="400.1" cy="104.9" r="1.4"/><circle cx="348.1" cy="130.6" r="1.4"/><circle cx="357.3" cy="140.2" r="1.4"/><circle cx="375.0" cy="138.5" r="1.4"/><circle cx="474.2" cy="73.7" r="1.4"/><circle cx="406.1" cy="83.2" r="1.4"/><circle cx="400.7" cy="100.9" r="1.4"/><circle cx="403.7" cy="89.6" r="1.4"/><circle cx="400.5" cy="92.7" r="1.4"/><circle cx="368.6" cy="137.4" r="1.4"/><circle cx="404.9" cy="85.2" r="1.4"/><circle cx="441.3" cy="84.5" r="1.4"/><circle cx="482.7" cy="73.3" r="1.4"/><circle cx="349.3" cy="139.2" r="1.4"/><circle cx="419.6" cy="74.6" r="1.4"/><circle cx="374.0" cy="103.2" r="1.4"/><circle cx="403.3" cy="102.7" r="1.4"/><circle cx="484.2" cy="64.5" r="1.4"/><circle cx="413.7" cy="92.3" r="1.4"/><circle cx="438.0" cy="82.3" r="1.4"/><circle cx="440.9" cy="56.5" r="1.4"/><circle cx="401.7" cy="96.9" r="1.4"/><circle cx="472.4" cy="76.1" r="1.4"/><circle cx="388.5" cy="103.3" r="1.4"/><circle cx="361.1" cy="131.8" r="1.4"/><circle cx="393.8" cy="111.0" r="1.4"/><circle cx="396.2" cy="106.4" r="1.4"/><circle cx="414.5" cy="90.5" r="1.4"/><circle cx="342.7" cy="135.9" r="1.4"/><circle cx="454.0" cy="63.0" r="1.4"/><circle cx="366.4" cy="128.1" r="1.4"/><circle cx="422.0" cy="79.1" r="1.4"/><circle cx="373.4" cy="110.7" r="1.4"/><circle cx="373.2" cy="129.3" r="1.4"/><circle cx="414.2" cy="93.1" r="1.4"/><circle cx="382.5" cy="106.2" r="1.4"/><circle cx="448.9" cy="72.7" r="1.4"/><circle cx="432.2" cy="79.0" r="1.4"/><circle cx="343.6" cy="133.5" r="1.4"/><circle cx="454.8" cy="75.8" r="1.4"/><circle cx="428.4" cy="88.6" r="1.4"/><circle cx="466.6" cy="85.8" r="1.4"/><circle cx="362.3" cy="120.0" r="1.4"/><circle cx="444.5" cy="78.4" r="1.4"/><circle cx="449.4" cy="68.3" r="1.4"/><circle cx="418.2" cy="95.0" r="1.4"/><circle cx="353.2" cy="136.8" r="1.4"/><circle cx="373.1" cy="113.4" r="1.4"/><circle cx="348.8" cy="140.1" r="1.4"/><circle cx="368.1" cy="114.3" r="1.4"/><circle cx="414.6" cy="88.1" r="1.4"/><circle cx="369.5" cy="132.5" r="1.4"/><circle cx="423.8" cy="84.0" r="1.4"/><circle cx="431.4" cy="81.9" r="1.4"/><circle cx="352.4" cy="132.1" r="1.4"/><circle cx="476.8" cy="72.8" r="1.4"/><circle cx="401.3" cy="103.0" r="1.4"/><circle cx="367.5" cy="119.5" r="1.4"/><circle cx="389.6" cy="97.7" r="1.4"/><circle cx="355.7" cy="136.8" r="1.4"/><circle cx="459.9" cy="80.2" r="1.4"/><circle cx="392.7" cy="99.1" r="1.4"/><circle cx="427.6" cy="70.2" r="1.4"/><circle cx="362.3" cy="123.8" r="1.4"/><circle cx="464.2" cy="76.8" r="1.4"/><circle cx="406.2" cy="88.2" r="1.4"/><circle cx="462.2" cy="67.4" r="1.4"/><circle cx="437.0" cy="60.9" r="1.4"/><circle cx="436.2" cy="75.3" r="1.4"/><circle cx="367.8" cy="123.5" r="1.4"/><circle cx="434.5" cy="72.4" r="1.4"/><circle cx="362.7" cy="162.2" r="1.4"/><circle cx="396.4" cy="106.5" r="1.4"/><circle cx="420.6" cy="78.7" r="1.4"/><circle cx="448.2" cy="76.0" r="1.4"/><circle cx="430.6" cy="91.2" r="1.4"/><circle cx="452.9" cy="83.6" r="1.4"/><circle cx="384.3" cy="111.5" r="1.4"/><circle cx="357.0" cy="139.1" r="1.4"/><circle cx="364.2" cy="118.7" r="1.4"/><circle cx="424.9" cy="77.2" r="1.4"/><circle cx="455.3" cy="60.7" r="1.4"/><circle cx="395.1" cy="97.7" r="1.4"/><circle cx="473.4" cy="75.9" r="1.4"/><circle cx="402.1" cy="84.6" r="1.4"/><circle cx="363.1" cy="135.9" r="1.4"/><circle cx="345.3" cy="137.5" r="1.4"/><circle cx="418.5" cy="107.3" r="1.4"/><circle cx="411.9" cy="89.4" r="1.4"/><circle cx="411.7" cy="84.7" r="1.4"/><circle cx="453.2" cy="66.0" r="1.4"/><circle cx="396.2" cy="91.4" r="1.4"/><circle cx="401.8" cy="89.6" r="1.4"/><circle cx="408.4" cy="81.1" r="1.4"/><circle cx="410.3" cy="94.1" r="1.4"/><circle cx="426.6" cy="73.2" r="1.4"/><circle cx="460.4" cy="69.9" r="1.4"/><circle cx="377.8" cy="124.4" r="1.4"/><circle cx="445.0" cy="72.7" r="1.4"/><circle cx="352.1" cy="146.0" r="1.4"/><circle cx="348.2" cy="157.7" r="1.4"/><circle cx="403.9" cy="84.7" r="1.4"/><circle cx="351.6" cy="137.4" r="1.4"/><circle cx="391.4" cy="123.6" r="1.4"/><circle cx="421.8" cy="96.1" r="1.4"/><circle cx="472.6" cy="84.9" r="1.4"/><circle cx="413.8" cy="88.6" r="1.4"/><circle cx="436.5" cy="67.6" r="1.4"/><circle cx="352.1" cy="125.2" r="1.4"/><circle cx="357.5" cy="136.8" r="1.4"/><circle cx="452.9" cy="58.7" r="1.4"/><circle cx="456.0" cy="79.2" r="1.4"/><circle cx="426.1" cy="98.9" r="1.4"/><circle cx="472.7" cy="57.9" r="1.4"/><circle cx="381.6" cy="106.5" r="1.4"/><circle cx="398.7" cy="108.5" r="1.4"/><circle cx="412.2" cy="87.8" r="1.4"/><circle cx="407.1" cy="97.5" r="1.4"/><circle cx="368.0" cy="120.9" r="1.4"/><circle cx="372.3" cy="130.0" r="1.4"/><circle cx="429.9" cy="76.7" r="1.4"/><circle cx="441.5" cy="81.6" r="1.4"/><circle cx="421.9" cy="75.5" r="1.4"/><circle cx="392.3" cy="102.1" r="1.4"/><circle cx="425.3" cy="85.0" r="1.4"/><circle cx="380.1" cy="120.0" r="1.4"/><circle cx="393.9" cy="113.6" r="1.4"/><circle cx="397.0" cy="98.9" r="1.4"/><circle cx="421.9" cy="94.6" r="1.4"/><circle cx="462.0" cy="62.0" r="1.4"/><circle cx="347.0" cy="133.9" r="1.4"/><circle cx="413.7" cy="84.6" r="1.4"/><circle cx="379.4" cy="122.2" r="1.4"/><circle cx="352.9" cy="130.3" r="1.4"/><circle cx="447.5" cy="75.9" r="1.4"/><circle cx="405.1" cy="89.2" r="1.4"/><circle cx="391.2" cy="110.3" r="1.4"/><circle cx="418.7" cy="102.5" r="1.4"/><circle cx="369.8" cy="118.9" r="1.4"/><circle cx="467.2" cy="68.2" r="1.4"/><circle cx="439.6" cy="81.2" r="1.4"/><circle cx="387.3" cy="80.8" r="1.4"/><circle cx="415.3" cy="84.0" r="1.4"/><circle cx="341.2" cy="135.9" r="1.4"/><circle cx="463.8" cy="62.8" r="1.4"/><circle cx="463.2" cy="61.4" r="1.4"/><circle cx="451.0" cy="72.5" r="1.4"/><circle cx="399.7" cy="81.7" r="1.4"/><circle cx="373.3" cy="113.9" r="1.4"/><circle cx="438.5" cy="60.4" r="1.4"/><circle cx="394.1" cy="103.7" r="1.4"/><circle cx="347.9" cy="137.3" r="1.4"/><circle cx="452.7" cy="65.2" r="1.4"/><circle cx="382.8" cy="104.9" r="1.4"/><circle cx="403.3" cy="105.8" r="1.4"/><circle cx="374.9" cy="113.6" r="1.4"/><circle cx="403.2" cy="90.5" r="1.4"/><circle cx="403.3" cy="94.5" r="1.4"/><circle cx="359.5" cy="136.7" r="1.4"/><circle cx="484.0" cy="80.2" r="1.4"/><circle cx="426.4" cy="104.4" r="1.4"/><circle cx="448.4" cy="61.6" r="1.4"/><circle cx="390.6" cy="114.9" r="1.4"/><circle cx="378.8" cy="95.8" r="1.4"/><circle cx="451.6" cy="77.5" r="1.4"/><circle cx="431.0" cy="83.6" r="1.4"/><circle cx="410.5" cy="104.4" r="1.4"/><circle cx="390.6" cy="103.5" r="1.4"/><circle cx="393.2" cy="118.9" r="1.4"/><circle cx="481.2" cy="72.6" r="1.4"/><circle cx="423.6" cy="91.5" r="1.4"/><circle cx="455.3" cy="71.2" r="1.4"/><circle cx="419.7" cy="87.1" r="1.4"/><circle cx="377.7" cy="114.5" r="1.4"/><circle cx="339.6" cy="154.2" r="1.4"/><circle cx="346.2" cy="128.9" r="1.4"/><circle cx="371.3" cy="126.4" r="1.4"/><circle cx="404.9" cy="100.6" r="1.4"/><circle cx="391.3" cy="116.2" r="1.4"/><circle cx="404.3" cy="113.0" r="1.4"/><circle cx="447.8" cy="62.3" r="1.4"/><circle cx="407.5" cy="96.7" r="1.4"/><circle cx="419.3" cy="85.2" r="1.4"/><circle cx="366.1" cy="136.6" r="1.4"/><circle cx="413.6" cy="97.6" r="1.4"/><circle cx="436.9" cy="64.9" r="1.4"/><circle cx="416.6" cy="88.6" r="1.4"/><circle cx="338.8" cy="156.7" r="1.4"/><circle cx="385.6" cy="97.4" r="1.4"/><circle cx="418.4" cy="84.3" r="1.4"/><circle cx="438.9" cy="83.8" r="1.4"/><circle cx="434.3" cy="75.7" r="1.4"/><circle cx="362.9" cy="119.1" r="1.4"/><circle cx="408.2" cy="106.6" r="1.4"/><circle cx="345.1" cy="154.0" r="1.4"/><circle cx="409.3" cy="111.7" r="1.4"/><circle cx="452.2" cy="75.5" r="1.4"/><circle cx="449.7" cy="82.9" r="1.4"/><circle cx="385.6" cy="97.7" r="1.4"/><circle cx="386.5" cy="102.2" r="1.4"/><circle cx="395.7" cy="99.5" r="1.4"/><circle cx="372.4" cy="123.7" r="1.4"/><circle cx="399.9" cy="96.6" r="1.4"/><circle cx="363.3" cy="126.8" r="1.4"/><circle cx="382.9" cy="82.7" r="1.4"/><circle cx="480.6" cy="69.8" r="1.4"/><circle cx="408.6" cy="105.1" r="1.4"/><circle cx="360.3" cy="127.9" r="1.4"/><circle cx="412.4" cy="85.4" r="1.4"/><circle cx="367.9" cy="121.2" r="1.4"/><circle cx="387.8" cy="100.5" r="1.4"/><circle cx="441.7" cy="80.5" r="1.4"/><circle cx="395.2" cy="100.4" r="1.4"/><circle cx="361.8" cy="129.6" r="1.4"/><circle cx="408.5" cy="97.6" r="1.4"/><circle cx="415.7" cy="91.8" r="1.4"/><circle cx="345.5" cy="132.4" r="1.4"/><circle cx="448.7" cy="75.1" r="1.4"/><circle cx="423.0" cy="92.6" r="1.4"/><circle cx="372.4" cy="113.7" r="1.4"/><circle cx="367.4" cy="110.1" r="1.4"/><circle cx="482.3" cy="68.2" r="1.4"/><circle cx="361.7" cy="123.7" r="1.4"/><circle cx="396.5" cy="74.3" r="1.4"/><circle cx="412.3" cy="84.9" r="1.4"/><circle cx="347.5" cy="141.8" r="1.4"/><circle cx="383.6" cy="124.3" r="1.4"/><circle cx="466.2" cy="55.3" r="1.4"/><circle cx="446.8" cy="58.4" r="1.4"/><circle cx="377.5" cy="114.9" r="1.4"/><circle cx="379.6" cy="137.1" r="1.4"/><circle cx="386.5" cy="92.2" r="1.4"/><circle cx="475.3" cy="54.8" r="1.4"/><circle cx="385.4" cy="119.5" r="1.4"/><circle cx="366.9" cy="122.4" r="1.4"/><circle cx="366.6" cy="133.4" r="1.4"/><circle cx="379.4" cy="119.7" r="1.4"/><circle cx="356.5" cy="127.4" r="1.4"/><circle cx="355.4" cy="134.4" r="1.4"/><circle cx="441.9" cy="67.1" r="1.4"/><circle cx="479.6" cy="72.6" r="1.4"/><circle cx="457.8" cy="76.9" r="1.4"/><circle cx="401.7" cy="101.5" r="1.4"/><circle cx="444.8" cy="75.7" r="1.4"/><circle cx="381.8" cy="119.8" r="1.4"/><circle cx="427.3" cy="91.2" r="1.4"/><circle cx="447.7" cy="69.6" r="1.4"/><circle cx="401.7" cy="91.7" r="1.4"/><circle cx="353.2" cy="148.9" r="1.4"/><circle cx="357.6" cy="135.7" r="1.4"/><circle cx="374.5" cy="121.4" r="1.4"/><circle cx="401.8" cy="67.9" r="1.4"/><circle cx="474.4" cy="74.3" r="1.4"/><circle cx="470.5" cy="72.6" r="1.4"/><circle cx="377.5" cy="83.0" r="1.4"/><circle cx="361.9" cy="123.0" r="1.4"/><circle cx="430.0" cy="97.8" r="1.4"/><circle cx="360.8" cy="121.8" r="1.4"/><circle cx="420.3" cy="86.9" r="1.4"/><circle cx="412.3" cy="90.0" r="1.4"/><circle cx="399.5" cy="110.0" r="1.4"/><circle cx="368.7" cy="114.0" r="1.4"/><circle cx="419.4" cy="92.2" r="1.4"/><circle cx="373.7" cy="130.7" r="1.4"/><circle cx="342.6" cy="156.9" r="1.4"/><circle cx="466.3" cy="78.1" r="1.4"/><circle cx="398.5" cy="105.8" r="1.4"/><circle cx="385.2" cy="119.8" r="1.4"/><circle cx="387.0" cy="88.5" r="1.4"/><circle cx="420.0" cy="93.7" r="1.4"/><circle cx="403.7" cy="94.6" r="1.4"/><circle cx="476.8" cy="74.9" r="1.4"/><circle cx="418.6" cy="72.6" r="1.4"/><circle cx="384.9" cy="116.2" r="1.4"/><circle cx="405.7" cy="94.3" r="1.4"/><circle cx="351.8" cy="135.0" r="1.4"/><circle cx="370.4" cy="107.5" r="1.4"/><circle cx="385.0" cy="103.2" r="1.4"/><circle cx="338.9" cy="141.7" r="1.4"/><circle cx="398.7" cy="132.1" r="1.4"/><circle cx="401.3" cy="106.5" r="1.4"/><circle cx="360.8" cy="127.7" r="1.4"/><circle cx="363.4" cy="123.5" r="1.4"/><circle cx="371.6" cy="123.5" r="1.4"/><circle cx="422.7" cy="74.3" r="1.4"/><circle cx="436.6" cy="68.3" r="1.4"/><circle cx="395.4" cy="111.9" r="1.4"/><circle cx="417.8" cy="88.8" r="1.4"/><circle cx="451.3" cy="68.4" r="1.4"/><circle cx="352.5" cy="133.5" r="1.4"/><circle cx="446.3" cy="66.4" r="1.4"/><circle cx="415.8" cy="74.5" r="1.4"/><circle cx="443.9" cy="53.2" r="1.4"/><circle cx="467.3" cy="77.2" r="1.4"/><circle cx="387.9" cy="104.0" r="1.4"/><circle cx="413.3" cy="94.9" r="1.4"/><circle cx="479.3" cy="74.3" r="1.4"/><circle cx="423.4" cy="84.9" r="1.4"/><circle cx="343.1" cy="134.9" r="1.4"/><circle cx="370.5" cy="127.6" r="1.4"/><circle cx="463.1" cy="63.4" r="1.4"/><circle cx="372.1" cy="107.5" r="1.4"/><circle cx="419.0" cy="87.0" r="1.4"/><circle cx="405.4" cy="96.0" r="1.4"/><circle cx="349.7" cy="125.7" r="1.4"/><circle cx="339.2" cy="143.2" r="1.4"/><circle cx="355.4" cy="138.5" r="1.4"/><circle cx="409.0" cy="83.6" r="1.4"/><circle cx="381.7" cy="116.2" r="1.4"/><circle cx="462.5" cy="76.3" r="1.4"/><circle cx="358.6" cy="139.5" r="1.4"/><circle cx="437.8" cy="92.2" r="1.4"/><circle cx="402.0" cy="90.6" r="1.4"/><circle cx="382.8" cy="105.3" r="1.4"/><circle cx="447.3" cy="84.6" r="1.4"/><circle cx="432.4" cy="94.4" r="1.4"/><circle cx="421.5" cy="85.3" r="1.4"/><circle cx="343.4" cy="143.1" r="1.4"/><circle cx="388.5" cy="101.5" r="1.4"/><circle cx="347.8" cy="135.7" r="1.4"/><circle cx="433.1" cy="86.0" r="1.4"/><circle cx="362.4" cy="134.8" r="1.4"/><circle cx="390.9" cy="104.9" r="1.4"/><circle cx="435.1" cy="76.2" r="1.4"/><circle cx="354.8" cy="139.5" r="1.4"/><circle cx="413.3" cy="98.7" r="1.4"/><circle cx="461.0" cy="59.9" r="1.4"/><circle cx="377.0" cy="115.3" r="1.4"/><circle cx="371.9" cy="119.6" r="1.4"/><circle cx="416.6" cy="96.2" r="1.4"/><circle cx="427.9" cy="71.9" r="1.4"/><circle cx="436.0" cy="67.0" r="1.4"/><circle cx="412.1" cy="86.2" r="1.4"/><circle cx="484.5" cy="69.4" r="1.4"/><circle cx="351.2" cy="128.2" r="1.4"/><circle cx="468.8" cy="80.7" r="1.4"/><circle cx="390.7" cy="98.2" r="1.4"/><circle cx="348.6" cy="127.5" r="1.4"/><circle cx="380.3" cy="106.7" r="1.4"/><circle cx="407.6" cy="94.9" r="1.4"/><circle cx="377.4" cy="113.5" r="1.4"/><circle cx="395.7" cy="104.9" r="1.4"/><circle cx="404.9" cy="101.4" r="1.4"/><circle cx="379.8" cy="114.6" r="1.4"/><circle cx="428.0" cy="94.2" r="1.4"/><circle cx="437.0" cy="72.0" r="1.4"/><circle cx="345.6" cy="137.9" r="1.4"/><circle cx="379.7" cy="100.1" r="1.4"/><circle cx="341.4" cy="142.6" r="1.4"/><circle cx="404.0" cy="109.5" r="1.4"/><circle cx="453.6" cy="80.5" r="1.4"/><circle cx="339.5" cy="144.1" r="1.4"/><circle cx="337.5" cy="140.2" r="1.4"/><circle cx="354.7" cy="141.1" r="1.4"/><circle cx="433.8" cy="88.2" r="1.4"/><circle cx="353.4" cy="131.7" r="1.4"/><circle cx="428.5" cy="94.7" r="1.4"/><circle cx="353.2" cy="136.9" r="1.4"/><circle cx="353.5" cy="143.1" r="1.4"/><circle cx="401.5" cy="99.4" r="1.4"/><circle cx="425.0" cy="86.5" r="1.4"/><circle cx="478.4" cy="70.0" r="1.4"/><circle cx="449.3" cy="107.8" r="1.4"/><circle cx="440.8" cy="69.2" r="1.4"/><circle cx="440.2" cy="97.3" r="1.4"/><circle cx="418.0" cy="84.9" r="1.4"/><circle cx="425.5" cy="76.9" r="1.4"/><circle cx="441.0" cy="56.6" r="1.4"/><circle cx="358.5" cy="140.4" r="1.4"/><circle cx="374.3" cy="107.3" r="1.4"/><circle cx="449.7" cy="75.2" r="1.4"/><circle cx="420.5" cy="88.1" r="1.4"/><circle cx="368.6" cy="107.4" r="1.4"/><circle cx="339.4" cy="139.5" r="1.4"/><circle cx="409.9" cy="106.3" r="1.4"/><circle cx="476.0" cy="76.4" r="1.4"/><circle cx="483.8" cy="69.2" r="1.4"/><circle cx="376.6" cy="103.6" r="1.4"/><circle cx="389.5" cy="110.3" r="1.4"/><circle cx="476.7" cy="73.4" r="1.4"/><circle cx="365.6" cy="123.9" r="1.4"/><circle cx="423.3" cy="89.1" r="1.4"/><circle cx="427.5" cy="89.4" r="1.4"/><circle cx="383.1" cy="113.2" r="1.4"/><circle cx="409.9" cy="101.7" r="1.4"/><circle cx="406.3" cy="104.4" r="1.4"/><circle cx="423.4" cy="60.7" r="1.4"/><circle cx="377.4" cy="122.6" r="1.4"/><circle cx="439.6" cy="83.2" r="1.4"/><circle cx="445.2" cy="65.3" r="1.4"/><circle cx="380.5" cy="111.0" r="1.4"/><circle cx="410.3" cy="89.5" r="1.4"/><circle cx="364.9" cy="126.1" r="1.4"/><circle cx="410.7" cy="95.3" r="1.4"/><circle cx="389.2" cy="91.7" r="1.4"/><circle cx="361.6" cy="133.9" r="1.4"/><circle cx="467.9" cy="75.5" r="1.4"/><circle cx="371.9" cy="110.9" r="1.4"/><circle cx="422.2" cy="72.5" r="1.4"/><circle cx="485.3" cy="67.6" r="1.4"/><circle cx="370.3" cy="118.5" r="1.4"/><circle cx="457.7" cy="78.8" r="1.4"/><circle cx="418.3" cy="86.1" r="1.4"/><circle cx="432.5" cy="72.7" r="1.4"/><circle cx="394.9" cy="106.2" r="1.4"/><circle cx="367.3" cy="136.7" r="1.4"/><circle cx="375.0" cy="108.5" r="1.4"/><circle cx="442.5" cy="57.5" r="1.4"/><circle cx="377.2" cy="122.8" r="1.4"/><circle cx="420.6" cy="97.1" r="1.4"/><circle cx="404.3" cy="98.9" r="1.4"/><circle cx="386.0" cy="98.7" r="1.4"/><circle cx="463.7" cy="82.0" r="1.4"/><circle cx="384.3" cy="103.9" r="1.4"/><circle cx="426.2" cy="89.6" r="1.4"/><circle cx="452.1" cy="71.5" r="1.4"/><circle cx="343.4" cy="140.2" r="1.4"/><circle cx="403.0" cy="87.7" r="1.4"/><circle cx="418.3" cy="89.3" r="1.4"/><circle cx="345.6" cy="140.2" r="1.4"/><circle cx="349.3" cy="136.7" r="1.4"/><circle cx="369.3" cy="103.3" r="1.4"/><circle cx="382.5" cy="106.4" r="1.4"/><circle cx="366.5" cy="115.9" r="1.4"/><circle cx="477.2" cy="65.3" r="1.4"/><circle cx="482.9" cy="70.1" r="1.4"/><circle cx="403.5" cy="94.7" r="1.4"/><circle cx="367.6" cy="120.8" r="1.4"/><circle cx="431.2" cy="69.0" r="1.4"/><circle cx="402.5" cy="89.2" r="1.4"/><circle cx="409.0" cy="94.0" r="1.4"/><circle cx="431.5" cy="87.7" r="1.4"/><circle cx="421.3" cy="88.1" r="1.4"/><circle cx="370.5" cy="108.5" r="1.4"/><circle cx="365.0" cy="121.2" r="1.4"/><circle cx="441.7" cy="79.6" r="1.4"/><circle cx="376.7" cy="106.8" r="1.4"/><circle cx="371.1" cy="117.7" r="1.4"/><circle cx="394.9" cy="109.9" r="1.4"/><circle cx="452.9" cy="80.5" r="1.4"/><circle cx="346.8" cy="152.7" r="1.4"/><circle cx="376.6" cy="106.8" r="1.4"/><circle cx="452.0" cy="76.5" r="1.4"/><circle cx="428.7" cy="67.7" r="1.4"/><circle cx="415.7" cy="98.8" r="1.4"/><circle cx="344.5" cy="134.9" r="1.4"/><circle cx="367.5" cy="135.0" r="1.4"/><circle cx="381.0" cy="116.0" r="1.4"/><circle cx="459.7" cy="72.2" r="1.4"/><circle cx="348.5" cy="135.5" r="1.4"/><circle cx="369.2" cy="128.7" r="1.4"/><circle cx="403.2" cy="84.8" r="1.4"/><circle cx="370.6" cy="127.1" r="1.4"/><circle cx="457.6" cy="64.4" r="1.4"/><circle cx="343.9" cy="148.7" r="1.4"/><circle cx="380.3" cy="135.0" r="1.4"/><circle cx="412.2" cy="85.6" r="1.4"/><circle cx="422.7" cy="78.6" r="1.4"/><circle cx="352.5" cy="132.8" r="1.4"/><circle cx="425.6" cy="71.2" r="1.4"/><circle cx="369.2" cy="131.8" r="1.4"/><circle cx="441.7" cy="92.6" r="1.4"/><circle cx="440.0" cy="59.2" r="1.4"/><circle cx="393.0" cy="104.0" r="1.4"/><circle cx="382.3" cy="113.5" r="1.4"/><circle cx="428.3" cy="90.2" r="1.4"/><circle cx="397.4" cy="75.5" r="1.4"/><circle cx="344.8" cy="129.2" r="1.4"/><circle cx="366.6" cy="134.8" r="1.4"/><circle cx="365.4" cy="121.8" r="1.4"/><circle cx="419.8" cy="98.6" r="1.4"/><circle cx="360.9" cy="131.9" r="1.4"/><circle cx="411.9" cy="83.5" r="1.4"/><circle cx="394.0" cy="95.5" r="1.4"/><circle cx="372.9" cy="136.6" r="1.4"/><circle cx="382.4" cy="114.4" r="1.4"/><circle cx="348.0" cy="137.9" r="1.4"/><circle cx="352.3" cy="125.5" r="1.4"/><circle cx="436.2" cy="71.6" r="1.4"/><circle cx="372.3" cy="130.2" r="1.4"/><circle cx="364.3" cy="129.8" r="1.4"/><circle cx="439.1" cy="83.8" r="1.4"/><circle cx="420.3" cy="79.6" r="1.4"/><circle cx="428.7" cy="71.2" r="1.4"/><circle cx="348.8" cy="139.4" r="1.4"/><circle cx="427.3" cy="82.9" r="1.4"/><circle cx="386.3" cy="93.3" r="1.4"/><circle cx="354.2" cy="128.3" r="1.4"/><circle cx="373.9" cy="108.2" r="1.4"/><circle cx="466.3" cy="83.9" r="1.4"/><circle cx="412.6" cy="105.4" r="1.4"/><circle cx="416.9" cy="87.0" r="1.4"/><circle cx="415.9" cy="96.2" r="1.4"/><circle cx="397.3" cy="92.4" r="1.4"/><circle cx="374.2" cy="126.3" r="1.4"/><circle cx="411.8" cy="93.8" r="1.4"/><circle cx="342.2" cy="138.4" r="1.4"/><circle cx="420.2" cy="81.8" r="1.4"/><circle cx="404.3" cy="91.8" r="1.4"/><circle cx="420.5" cy="101.7" r="1.4"/><circle cx="402.9" cy="105.8" r="1.4"/><circle cx="473.2" cy="72.2" r="1.4"/><circle cx="358.2" cy="131.7" r="1.4"/><circle cx="438.7" cy="89.5" r="1.4"/><circle cx="376.2" cy="113.2" r="1.4"/><circle cx="397.5" cy="116.5" r="1.4"/><circle cx="349.7" cy="136.2" r="1.4"/><circle cx="361.8" cy="134.6" r="1.4"/><circle cx="402.7" cy="101.2" r="1.4"/><circle cx="382.3" cy="101.5" r="1.4"/><circle cx="350.2" cy="136.1" r="1.4"/><circle cx="409.8" cy="89.5" r="1.4"/><circle cx="407.7" cy="95.0" r="1.4"/><circle cx="470.8" cy="77.0" r="1.4"/><circle cx="346.4" cy="145.7" r="1.4"/><circle cx="344.7" cy="135.2" r="1.4"/><circle cx="414.1" cy="94.9" r="1.4"/><circle cx="387.6" cy="135.8" r="1.4"/><circle cx="344.4" cy="138.0" r="1.4"/><circle cx="407.7" cy="85.2" r="1.4"/><circle cx="342.9" cy="134.5" r="1.4"/><circle cx="450.2" cy="68.3" r="1.4"/><circle cx="353.7" cy="135.1" r="1.4"/><circle cx="354.3" cy="134.1" r="1.4"/><circle cx="359.7" cy="122.3" r="1.4"/><circle cx="427.7" cy="92.0" r="1.4"/><circle cx="427.5" cy="79.1" r="1.4"/><circle cx="414.4" cy="89.7" r="1.4"/><circle cx="382.7" cy="106.2" r="1.4"/><circle cx="395.6" cy="101.0" r="1.4"/><circle cx="431.0" cy="66.7" r="1.4"/><circle cx="458.0" cy="84.0" r="1.4"/><circle cx="423.8" cy="84.1" r="1.4"/><circle cx="454.5" cy="67.8" r="1.4"/><circle cx="394.8" cy="95.3" r="1.4"/><circle cx="445.8" cy="82.2" r="1.4"/><circle cx="390.0" cy="103.7" r="1.4"/><circle cx="398.9" cy="100.6" r="1.4"/><circle cx="395.4" cy="96.5" r="1.4"/><circle cx="354.6" cy="147.3" r="1.4"/><circle cx="411.5" cy="96.0" r="1.4"/><circle cx="357.1" cy="148.5" r="1.4"/><circle cx="380.8" cy="137.9" r="1.4"/><circle cx="459.8" cy="78.1" r="1.4"/><circle cx="476.7" cy="72.9" r="1.4"/><circle cx="441.6" cy="65.9" r="1.4"/><circle cx="361.8" cy="127.9" r="1.4"/><circle cx="440.4" cy="69.6" r="1.4"/><circle cx="371.8" cy="117.5" r="1.4"/><circle cx="380.6" cy="100.9" r="1.4"/><circle cx="437.1" cy="90.5" r="1.4"/><circle cx="349.8" cy="141.7" r="1.4"/><circle cx="367.9" cy="124.0" r="1.4"/><circle cx="464.2" cy="68.9" r="1.4"/><circle cx="346.6" cy="135.9" r="1.4"/><circle cx="336.8" cy="135.4" r="1.4"/><circle cx="351.1" cy="136.2" r="1.4"/><circle cx="414.3" cy="88.5" r="1.4"/><circle cx="392.3" cy="99.4" r="1.4"/><circle cx="410.3" cy="83.4" r="1.4"/><circle cx="429.9" cy="85.6" r="1.4"/><circle cx="413.4" cy="89.5" r="1.4"/><circle cx="365.0" cy="133.8" r="1.4"/><circle cx="365.0" cy="114.2" r="1.4"/><circle cx="417.8" cy="76.6" r="1.4"/><circle cx="389.8" cy="98.2" r="1.4"/><circle cx="381.6" cy="116.3" r="1.4"/><circle cx="364.1" cy="127.6" r="1.4"/><circle cx="378.7" cy="116.0" r="1.4"/><circle cx="377.6" cy="106.4" r="1.4"/><circle cx="393.7" cy="106.4" r="1.4"/><circle cx="435.0" cy="88.6" r="1.4"/><circle cx="419.5" cy="94.7" r="1.4"/><circle cx="364.4" cy="134.6" r="1.4"/><circle cx="432.1" cy="81.6" r="1.4"/><circle cx="337.4" cy="147.8" r="1.4"/><circle cx="464.5" cy="75.7" r="1.4"/><circle cx="379.1" cy="105.5" r="1.4"/><circle cx="365.4" cy="137.3" r="1.4"/><circle cx="430.5" cy="86.9" r="1.4"/><circle cx="343.5" cy="144.5" r="1.4"/><circle cx="439.2" cy="48.2" r="1.4"/><circle cx="348.3" cy="138.9" r="1.4"/><circle cx="372.8" cy="112.3" r="1.4"/><circle cx="353.9" cy="139.9" r="1.4"/><circle cx="448.0" cy="92.9" r="1.4"/><circle cx="466.1" cy="74.6" r="1.4"/><circle cx="443.7" cy="47.4" r="1.4"/><circle cx="429.9" cy="76.2" r="1.4"/><circle cx="442.6" cy="73.4" r="1.4"/><circle cx="367.5" cy="122.7" r="1.4"/><circle cx="390.5" cy="100.5" r="1.4"/><circle cx="446.9" cy="79.9" r="1.4"/><circle cx="438.6" cy="82.3" r="1.4"/><circle cx="402.7" cy="102.1" r="1.4"/><circle cx="393.4" cy="107.6" r="1.4"/><circle cx="397.9" cy="96.6" r="1.4"/><circle cx="380.6" cy="122.7" r="1.4"/><circle cx="336.1" cy="145.3" r="1.4"/><circle cx="459.7" cy="68.6" r="1.4"/><circle cx="338.8" cy="147.6" r="1.4"/><circle cx="403.3" cy="78.0" r="1.4"/><circle cx="454.0" cy="83.7" r="1.4"/><circle cx="443.6" cy="97.2" r="1.4"/><circle cx="396.0" cy="105.6" r="1.4"/><circle cx="422.4" cy="88.1" r="1.4"/><circle cx="402.7" cy="88.6" r="1.4"/><circle cx="367.8" cy="129.5" r="1.4"/><circle cx="474.4" cy="70.9" r="1.4"/><circle cx="450.5" cy="89.1" r="1.4"/><circle cx="364.1" cy="130.8" r="1.4"/><circle cx="434.8" cy="66.7" r="1.4"/><circle cx="354.9" cy="148.1" r="1.4"/><circle cx="381.9" cy="113.5" r="1.4"/><circle cx="451.2" cy="77.6" r="1.4"/><circle cx="398.3" cy="96.2" r="1.4"/><circle cx="442.7" cy="79.2" r="1.4"/><circle cx="421.2" cy="74.8" r="1.4"/><circle cx="424.3" cy="76.4" r="1.4"/><circle cx="384.0" cy="117.4" r="1.4"/><circle cx="359.3" cy="129.2" r="1.4"/><circle cx="356.8" cy="135.3" r="1.4"/><circle cx="447.0" cy="74.0" r="1.4"/><circle cx="450.2" cy="69.9" r="1.4"/><circle cx="380.3" cy="120.2" r="1.4"/><circle cx="402.5" cy="99.9" r="1.4"/><circle cx="399.0" cy="93.6" r="1.4"/><circle cx="342.8" cy="137.2" r="1.4"/><circle cx="412.5" cy="89.9" r="1.4"/><circle cx="404.1" cy="101.0" r="1.4"/><circle cx="405.1" cy="100.8" r="1.4"/><circle cx="434.1" cy="85.5" r="1.4"/><circle cx="365.5" cy="130.0" r="1.4"/><circle cx="477.4" cy="73.2" r="1.4"/><circle cx="382.2" cy="120.4" r="1.4"/><circle cx="344.1" cy="135.0" r="1.4"/><circle cx="403.9" cy="85.0" r="1.4"/><circle cx="347.2" cy="147.3" r="1.4"/><circle cx="439.7" cy="60.5" r="1.4"/><circle cx="403.1" cy="105.6" r="1.4"/><circle cx="426.7" cy="60.8" r="1.4"/><circle cx="362.4" cy="122.8" r="1.4"/><circle cx="430.2" cy="77.3" r="1.4"/><circle cx="369.1" cy="109.8" r="1.4"/><circle cx="388.0" cy="113.2" r="1.4"/><circle cx="423.7" cy="89.9" r="1.4"/><circle cx="370.9" cy="113.5" r="1.4"/><circle cx="399.5" cy="92.4" r="1.4"/><circle cx="418.4" cy="95.6" r="1.4"/><circle cx="449.7" cy="57.1" r="1.4"/><circle cx="383.5" cy="98.6" r="1.4"/><circle cx="455.8" cy="68.3" r="1.4"/><circle cx="344.6" cy="150.9" r="1.4"/><circle cx="443.8" cy="62.6" r="1.4"/><circle cx="393.2" cy="120.0" r="1.4"/><circle cx="423.1" cy="84.1" r="1.4"/><circle cx="469.9" cy="68.3" r="1.4"/><circle cx="460.9" cy="84.2" r="1.4"/><circle cx="381.5" cy="104.5" r="1.4"/><circle cx="453.2" cy="77.4" r="1.4"/><circle cx="419.1" cy="77.9" r="1.4"/><circle cx="346.8" cy="144.4" r="1.4"/><circle cx="416.2" cy="99.0" r="1.4"/><circle cx="408.3" cy="93.3" r="1.4"/><circle cx="410.4" cy="104.1" r="1.4"/><circle cx="451.6" cy="81.0" r="1.4"/><circle cx="413.6" cy="112.3" r="1.4"/><circle cx="393.8" cy="106.0" r="1.4"/><circle cx="351.8" cy="133.6" r="1.4"/><circle cx="423.7" cy="99.3" r="1.4"/><circle cx="376.0" cy="120.5" r="1.4"/><circle cx="458.8" cy="61.8" r="1.4"/><circle cx="394.8" cy="115.8" r="1.4"/><circle cx="405.3" cy="85.4" r="1.4"/><circle cx="399.7" cy="107.1" r="1.4"/><circle cx="414.0" cy="99.7" r="1.4"/><circle cx="396.4" cy="98.3" r="1.4"/><circle cx="441.6" cy="74.5" r="1.4"/><circle cx="337.9" cy="142.9" r="1.4"/><circle cx="427.4" cy="80.3" r="1.4"/><circle cx="410.1" cy="67.7" r="1.4"/><circle cx="361.0" cy="131.3" r="1.4"/><circle cx="376.7" cy="104.1" r="1.4"/><circle cx="486.8" cy="67.4" r="1.4"/><circle cx="378.4" cy="111.7" r="1.4"/><circle cx="435.1" cy="69.4" r="1.4"/><circle cx="378.8" cy="100.3" r="1.4"/><circle cx="368.6" cy="128.6" r="1.4"/><circle cx="454.7" cy="68.5" r="1.4"/><circle cx="417.3" cy="100.6" r="1.4"/><circle cx="439.6" cy="66.4" r="1.4"/><circle cx="394.9" cy="101.3" r="1.4"/><circle cx="375.6" cy="102.8" r="1.4"/><circle cx="348.1" cy="143.0" r="1.4"/><circle cx="402.3" cy="94.3" r="1.4"/><circle cx="394.9" cy="124.9" r="1.4"/><circle cx="427.0" cy="104.5" r="1.4"/><circle cx="387.0" cy="93.6" r="1.4"/><circle cx="423.6" cy="86.0" r="1.4"/><circle cx="412.3" cy="90.2" r="1.4"/><circle cx="373.3" cy="109.2" r="1.4"/><circle cx="354.2" cy="139.4" r="1.4"/><circle cx="439.9" cy="77.3" r="1.4"/><circle cx="374.0" cy="106.2" r="1.4"/><circle cx="348.9" cy="141.1" r="1.4"/><circle cx="393.8" cy="124.8" r="1.4"/><circle cx="368.8" cy="128.1" r="1.4"/><circle cx="420.7" cy="102.1" r="1.4"/><circle cx="417.5" cy="85.1" r="1.4"/><circle cx="391.8" cy="113.7" r="1.4"/><circle cx="374.4" cy="117.4" r="1.4"/><circle cx="380.2" cy="112.9" r="1.4"/><circle cx="411.4" cy="89.6" r="1.4"/><circle cx="370.1" cy="119.6" r="1.4"/><circle cx="380.0" cy="117.2" r="1.4"/><circle cx="355.5" cy="125.4" r="1.4"/><circle cx="386.2" cy="118.7" r="1.4"/><circle cx="405.4" cy="100.3" r="1.4"/><circle cx="378.7" cy="103.5" r="1.4"/><circle cx="387.1" cy="103.4" r="1.4"/><circle cx="468.5" cy="58.2" r="1.4"/><circle cx="383.7" cy="111.3" r="1.4"/><circle cx="436.6" cy="65.4" r="1.4"/><circle cx="451.4" cy="64.2" r="1.4"/><circle cx="381.6" cy="119.2" r="1.4"/><circle cx="366.7" cy="121.7" r="1.4"/><circle cx="400.3" cy="89.5" r="1.4"/><circle cx="420.0" cy="76.9" r="1.4"/><circle cx="434.7" cy="55.4" r="1.4"/><circle cx="338.4" cy="148.1" r="1.4"/><circle cx="348.3" cy="132.4" r="1.4"/><circle cx="480.2" cy="74.3" r="1.4"/><circle cx="423.7" cy="72.0" r="1.4"/><circle cx="381.3" cy="106.1" r="1.4"/><circle cx="430.8" cy="86.7" r="1.4"/><circle cx="443.0" cy="68.4" r="1.4"/><circle cx="400.5" cy="104.1" r="1.4"/><circle cx="470.2" cy="72.6" r="1.4"/><circle cx="425.7" cy="79.9" r="1.4"/><circle cx="377.6" cy="100.9" r="1.4"/><circle cx="392.5" cy="91.3" r="1.4"/><circle cx="407.0" cy="96.0" r="1.4"/><circle cx="423.2" cy="86.2" r="1.4"/><circle cx="351.9" cy="132.1" r="1.4"/><circle cx="385.7" cy="107.8" r="1.4"/><circle cx="376.7" cy="115.2" r="1.4"/><circle cx="427.4" cy="89.7" r="1.4"/><circle cx="340.0" cy="145.3" r="1.4"/><circle cx="374.6" cy="127.1" r="1.4"/><circle cx="404.7" cy="94.4" r="1.4"/><circle cx="337.4" cy="155.3" r="1.4"/><circle cx="419.8" cy="89.4" r="1.4"/><circle cx="371.9" cy="117.2" r="1.4"/><circle cx="414.1" cy="92.8" r="1.4"/><circle cx="354.0" cy="130.5" r="1.4"/><circle cx="410.1" cy="90.2" r="1.4"/><circle cx="359.1" cy="133.3" r="1.4"/><circle cx="377.2" cy="117.5" r="1.4"/><circle cx="408.3" cy="93.1" r="1.4"/><circle cx="417.4" cy="81.1" r="1.4"/><circle cx="379.3" cy="140.5" r="1.4"/><circle cx="452.7" cy="72.9" r="1.4"/><circle cx="447.1" cy="70.0" r="1.4"/><circle cx="372.0" cy="116.7" r="1.4"/><circle cx="339.4" cy="146.9" r="1.4"/><circle cx="404.2" cy="92.8" r="1.4"/><circle cx="414.0" cy="99.4" r="1.4"/><circle cx="429.0" cy="88.3" r="1.4"/><circle cx="372.9" cy="114.5" r="1.4"/><circle cx="352.8" cy="132.4" r="1.4"/><circle cx="401.5" cy="85.3" r="1.4"/><circle cx="483.3" cy="70.0" r="1.4"/><circle cx="377.9" cy="102.0" r="1.4"/><circle cx="381.4" cy="109.0" r="1.4"/><circle cx="435.8" cy="81.1" r="1.4"/><circle cx="343.9" cy="144.8" r="1.4"/><circle cx="423.4" cy="84.4" r="1.4"/><circle cx="385.5" cy="105.2" r="1.4"/><circle cx="364.8" cy="124.5" r="1.4"/><circle cx="411.0" cy="79.9" r="1.4"/><circle cx="425.8" cy="67.9" r="1.4"/><circle cx="353.1" cy="121.9" r="1.4"/><circle cx="401.3" cy="95.1" r="1.4"/><circle cx="421.6" cy="93.1" r="1.4"/><circle cx="402.7" cy="88.8" r="1.4"/><circle cx="381.2" cy="126.1" r="1.4"/><circle cx="435.2" cy="73.7" r="1.4"/><circle cx="396.4" cy="100.8" r="1.4"/><circle cx="398.5" cy="95.9" r="1.4"/><circle cx="408.6" cy="109.2" r="1.4"/><circle cx="374.1" cy="120.6" r="1.4"/><circle cx="389.8" cy="113.8" r="1.4"/><circle cx="373.0" cy="122.4" r="1.4"/><circle cx="374.8" cy="109.9" r="1.4"/><circle cx="430.2" cy="59.0" r="1.4"/><circle cx="451.6" cy="50.0" r="1.4"/><circle cx="355.4" cy="139.7" r="1.4"/><circle cx="349.4" cy="163.6" r="1.4"/><circle cx="408.3" cy="90.8" r="1.4"/><circle cx="410.2" cy="79.7" r="1.4"/><circle cx="406.9" cy="87.3" r="1.4"/><circle cx="474.9" cy="80.2" r="1.4"/><circle cx="404.2" cy="106.5" r="1.4"/><circle cx="460.8" cy="50.7" r="1.4"/><circle cx="409.1" cy="101.0" r="1.4"/><circle cx="366.5" cy="128.9" r="1.4"/><circle cx="436.5" cy="92.1" r="1.4"/><circle cx="386.1" cy="100.6" r="1.4"/><circle cx="454.5" cy="85.8" r="1.4"/><circle cx="449.2" cy="76.2" r="1.4"/><circle cx="409.3" cy="80.5" r="1.4"/><circle cx="363.2" cy="117.4" r="1.4"/><circle cx="415.1" cy="96.1" r="1.4"/><circle cx="381.7" cy="114.7" r="1.4"/><circle cx="349.9" cy="134.2" r="1.4"/><circle cx="463.2" cy="76.0" r="1.4"/><circle cx="371.7" cy="129.6" r="1.4"/><circle cx="467.4" cy="79.6" r="1.4"/><circle cx="454.2" cy="70.3" r="1.4"/><circle cx="436.5" cy="82.6" r="1.4"/><circle cx="406.9" cy="95.3" r="1.4"/><circle cx="361.4" cy="127.4" r="1.4"/><circle cx="393.7" cy="100.9" r="1.4"/><circle cx="375.4" cy="105.6" r="1.4"/><circle cx="409.6" cy="92.1" r="1.4"/><circle cx="341.6" cy="138.7" r="1.4"/><circle cx="376.1" cy="111.1" r="1.4"/><circle cx="386.5" cy="121.2" r="1.4"/><circle cx="429.3" cy="87.3" r="1.4"/><circle cx="394.7" cy="106.3" r="1.4"/><circle cx="447.6" cy="68.5" r="1.4"/><circle cx="370.3" cy="128.8" r="1.4"/><circle cx="450.8" cy="76.2" r="1.4"/><circle cx="402.9" cy="99.5" r="1.4"/><circle cx="342.4" cy="136.8" r="1.4"/><circle cx="409.4" cy="98.2" r="1.4"/><circle cx="431.3" cy="88.8" r="1.4"/><circle cx="435.7" cy="66.3" r="1.4"/><circle cx="456.2" cy="72.9" r="1.4"/><circle cx="365.0" cy="133.9" r="1.4"/><circle cx="406.2" cy="107.7" r="1.4"/><circle cx="450.1" cy="75.9" r="1.4"/><circle cx="424.2" cy="77.0" r="1.4"/><circle cx="444.4" cy="82.3" r="1.4"/><circle cx="345.0" cy="137.6" r="1.4"/><circle cx="390.0" cy="98.7" r="1.4"/><circle cx="454.4" cy="71.0" r="1.4"/><circle cx="386.2" cy="104.4" r="1.4"/><circle cx="446.6" cy="62.1" r="1.4"/><circle cx="415.9" cy="96.4" r="1.4"/><circle cx="398.6" cy="90.4" r="1.4"/><circle cx="433.2" cy="80.8" r="1.4"/><circle cx="474.4" cy="67.3" r="1.4"/><circle cx="469.6" cy="93.5" r="1.4"/><circle cx="393.8" cy="108.7" r="1.4"/><circle cx="457.1" cy="80.2" r="1.4"/><circle cx="431.4" cy="92.9" r="1.4"/><circle cx="435.1" cy="76.7" r="1.4"/><circle cx="374.8" cy="113.5" r="1.4"/><circle cx="428.9" cy="94.4" r="1.4"/><circle cx="380.8" cy="112.3" r="1.4"/><circle cx="409.7" cy="92.4" r="1.4"/><circle cx="384.1" cy="120.6" r="1.4"/><circle cx="426.2" cy="71.3" r="1.4"/><circle cx="377.1" cy="102.1" r="1.4"/><circle cx="401.6" cy="102.3" r="1.4"/><circle cx="383.4" cy="102.3" r="1.4"/><circle cx="362.7" cy="126.5" r="1.4"/><circle cx="395.1" cy="94.7" r="1.4"/><circle cx="345.8" cy="138.3" r="1.4"/><circle cx="351.1" cy="141.1" r="1.4"/><circle cx="472.7" cy="74.8" r="1.4"/><circle cx="456.5" cy="80.4" r="1.4"/><circle cx="422.8" cy="88.9" r="1.4"/><circle cx="346.2" cy="144.5" r="1.4"/><circle cx="415.8" cy="81.6" r="1.4"/><circle cx="366.8" cy="128.6" r="1.4"/><circle cx="359.1" cy="125.7" r="1.4"/><circle cx="416.9" cy="101.0" r="1.4"/><circle cx="452.6" cy="80.6" r="1.4"/><circle cx="382.8" cy="125.8" r="1.4"/><circle cx="355.4" cy="137.7" r="1.4"/><circle cx="419.3" cy="93.4" r="1.4"/><circle cx="451.3" cy="45.6" r="1.4"/><circle cx="443.2" cy="76.6" r="1.4"/><circle cx="390.2" cy="109.8" r="1.4"/><circle cx="446.4" cy="57.6" r="1.4"/><circle cx="363.5" cy="133.1" r="1.4"/><circle cx="338.5" cy="142.6" r="1.4"/><circle cx="405.7" cy="98.2" r="1.4"/><circle cx="381.8" cy="110.2" r="1.4"/><circle cx="385.1" cy="115.5" r="1.4"/><circle cx="406.5" cy="101.2" r="1.4"/><circle cx="365.3" cy="128.8" r="1.4"/><circle cx="423.1" cy="90.6" r="1.4"/><circle cx="365.4" cy="127.2" r="1.4"/><circle cx="453.8" cy="70.3" r="1.4"/><circle cx="352.8" cy="126.5" r="1.4"/><circle cx="478.3" cy="68.3" r="1.4"/><circle cx="411.1" cy="94.5" r="1.4"/><circle cx="380.0" cy="111.5" r="1.4"/><circle cx="351.5" cy="136.6" r="1.4"/><circle cx="365.9" cy="120.0" r="1.4"/><circle cx="406.0" cy="92.4" r="1.4"/><circle cx="477.1" cy="71.6" r="1.4"/><circle cx="352.5" cy="143.2" r="1.4"/><circle cx="479.5" cy="82.1" r="1.4"/><circle cx="427.9" cy="82.7" r="1.4"/><circle cx="378.7" cy="110.4" r="1.4"/><circle cx="363.7" cy="120.4" r="1.4"/><circle cx="464.5" cy="79.8" r="1.4"/><circle cx="429.6" cy="81.6" r="1.4"/><circle cx="467.8" cy="68.7" r="1.4"/><circle cx="341.4" cy="141.2" r="1.4"/><circle cx="466.1" cy="73.9" r="1.4"/><circle cx="352.6" cy="130.0" r="1.4"/><circle cx="400.8" cy="91.9" r="1.4"/><circle cx="437.9" cy="78.7" r="1.4"/><circle cx="363.2" cy="142.4" r="1.4"/><circle cx="336.0" cy="143.2" r="1.4"/><circle cx="379.2" cy="102.3" r="1.4"/><circle cx="446.5" cy="55.1" r="1.4"/><circle cx="376.8" cy="128.4" r="1.4"/><circle cx="407.1" cy="85.6" r="1.4"/><circle cx="393.6" cy="85.3" r="1.4"/><circle cx="410.5" cy="104.8" r="1.4"/><circle cx="420.4" cy="77.8" r="1.4"/><circle cx="380.7" cy="99.7" r="1.4"/><circle cx="415.7" cy="90.4" r="1.4"/><circle cx="442.4" cy="75.5" r="1.4"/><circle cx="400.4" cy="93.7" r="1.4"/><circle cx="455.5" cy="84.6" r="1.4"/><circle cx="409.2" cy="105.0" r="1.4"/><circle cx="447.5" cy="88.0" r="1.4"/><circle cx="361.7" cy="135.8" r="1.4"/><circle cx="436.6" cy="50.5" r="1.4"/><circle cx="369.8" cy="121.7" r="1.4"/><circle cx="408.2" cy="95.9" r="1.4"/><circle cx="427.6" cy="72.6" r="1.4"/><circle cx="382.0" cy="101.1" r="1.4"/><circle cx="378.2" cy="127.0" r="1.4"/><circle cx="374.3" cy="101.3" r="1.4"/><circle cx="446.6" cy="61.6" r="1.4"/><circle cx="467.7" cy="63.9" r="1.4"/><circle cx="442.9" cy="81.4" r="1.4"/><circle cx="424.3" cy="80.5" r="1.4"/><circle cx="401.2" cy="90.5" r="1.4"/><circle cx="402.0" cy="91.7" r="1.4"/><circle cx="455.1" cy="82.8" r="1.4"/><circle cx="429.4" cy="75.7" r="1.4"/><circle cx="367.6" cy="117.1" r="1.4"/><circle cx="431.9" cy="88.8" r="1.4"/><circle cx="419.4" cy="87.5" r="1.4"/><circle cx="366.4" cy="140.5" r="1.4"/><circle cx="378.6" cy="121.7" r="1.4"/><circle cx="337.4" cy="138.0" r="1.4"/><circle cx="378.7" cy="109.8" r="1.4"/><circle cx="436.7" cy="68.8" r="1.4"/><circle cx="410.5" cy="104.9" r="1.4"/><circle cx="386.1" cy="99.8" r="1.4"/><circle cx="483.4" cy="77.2" r="1.4"/><circle cx="367.0" cy="131.0" r="1.4"/><circle cx="402.4" cy="96.1" r="1.4"/><circle cx="394.8" cy="103.4" r="1.4"/><circle cx="403.5" cy="98.6" r="1.4"/><circle cx="373.0" cy="106.8" r="1.4"/><circle cx="416.1" cy="67.0" r="1.4"/><circle cx="375.0" cy="114.9" r="1.4"/><circle cx="467.6" cy="66.0" r="1.4"/><circle cx="410.7" cy="93.2" r="1.4"/><circle cx="376.2" cy="106.8" r="1.4"/><circle cx="399.2" cy="72.4" r="1.4"/><circle cx="374.9" cy="116.6" r="1.4"/><circle cx="431.3" cy="90.0" r="1.4"/><circle cx="393.2" cy="108.1" r="1.4"/><circle cx="416.0" cy="98.6" r="1.4"/><circle cx="428.8" cy="93.6" r="1.4"/><circle cx="391.5" cy="110.7" r="1.4"/><circle cx="452.2" cy="71.4" r="1.4"/><circle cx="431.4" cy="65.0" r="1.4"/><circle cx="447.1" cy="67.3" r="1.4"/><circle cx="384.1" cy="102.0" r="1.4"/><circle cx="362.6" cy="128.4" r="1.4"/><circle cx="357.0" cy="135.7" r="1.4"/><circle cx="412.8" cy="95.6" r="1.4"/><circle cx="348.8" cy="135.9" r="1.4"/><circle cx="391.9" cy="95.6" r="1.4"/><circle cx="375.4" cy="119.1" r="1.4"/><circle cx="410.2" cy="85.2" r="1.4"/><circle cx="436.3" cy="87.0" r="1.4"/><circle cx="437.4" cy="90.2" r="1.4"/><circle cx="379.3" cy="124.5" r="1.4"/><circle cx="371.9" cy="111.5" r="1.4"/><circle cx="432.2" cy="76.9" r="1.4"/><circle cx="423.9" cy="81.2" r="1.4"/><circle cx="342.8" cy="150.5" r="1.4"/><circle cx="409.5" cy="110.2" r="1.4"/><circle cx="395.8" cy="126.0" r="1.4"/><circle cx="359.5" cy="133.3" r="1.4"/><circle cx="438.6" cy="70.9" r="1.4"/><circle cx="425.1" cy="94.8" r="1.4"/><circle cx="450.0" cy="80.8" r="1.4"/><circle cx="350.6" cy="129.7" r="1.4"/><circle cx="466.2" cy="73.1" r="1.4"/><circle cx="405.9" cy="106.2" r="1.4"/><circle cx="357.5" cy="131.8" r="1.4"/><circle cx="450.9" cy="69.2" r="1.4"/><circle cx="363.5" cy="129.6" r="1.4"/><circle cx="430.9" cy="61.8" r="1.4"/><circle cx="424.5" cy="104.5" r="1.4"/><circle cx="479.1" cy="65.1" r="1.4"/><circle cx="343.4" cy="136.6" r="1.4"/><circle cx="406.3" cy="89.7" r="1.4"/><circle cx="430.4" cy="67.2" r="1.4"/><circle cx="387.8" cy="100.4" r="1.4"/><circle cx="432.1" cy="62.2" r="1.4"/><circle cx="424.3" cy="80.4" r="1.4"/><circle cx="453.3" cy="66.0" r="1.4"/><circle cx="366.7" cy="120.4" r="1.4"/><circle cx="366.6" cy="116.5" r="1.4"/><circle cx="444.7" cy="88.4" r="1.4"/><circle cx="394.2" cy="94.4" r="1.4"/><circle cx="385.4" cy="111.3" r="1.4"/><circle cx="380.2" cy="108.3" r="1.4"/><circle cx="449.6" cy="69.3" r="1.4"/><circle cx="423.8" cy="82.1" r="1.4"/><circle cx="431.5" cy="68.3" r="1.4"/><circle cx="349.4" cy="135.4" r="1.4"/><circle cx="372.5" cy="122.2" r="1.4"/><circle cx="420.0" cy="81.6" r="1.4"/><circle cx="425.5" cy="79.1" r="1.4"/><circle cx="450.5" cy="83.6" r="1.4"/><circle cx="376.0" cy="110.0" r="1.4"/><circle cx="399.8" cy="99.6" r="1.4"/><circle cx="424.8" cy="93.3" r="1.4"/><circle cx="396.4" cy="106.3" r="1.4"/><circle cx="440.6" cy="76.9" r="1.4"/><circle cx="409.7" cy="84.9" r="1.4"/><circle cx="386.5" cy="127.4" r="1.4"/><circle cx="391.0" cy="115.1" r="1.4"/><circle cx="445.3" cy="72.5" r="1.4"/><circle cx="357.7" cy="121.4" r="1.4"/><circle cx="440.5" cy="88.1" r="1.4"/><circle cx="455.5" cy="61.8" r="1.4"/><circle cx="414.5" cy="101.7" r="1.4"/><circle cx="379.8" cy="107.5" r="1.4"/><circle cx="431.3" cy="91.9" r="1.4"/><circle cx="387.7" cy="97.4" r="1.4"/><circle cx="428.3" cy="85.5" r="1.4"/><circle cx="394.2" cy="105.2" r="1.4"/><circle cx="479.9" cy="64.9" r="1.4"/><circle cx="344.4" cy="139.1" r="1.4"/><circle cx="387.3" cy="103.5" r="1.4"/><circle cx="360.9" cy="137.7" r="1.4"/><circle cx="422.0" cy="97.9" r="1.4"/><circle cx="384.4" cy="109.8" r="1.4"/><circle cx="374.7" cy="138.7" r="1.4"/><circle cx="414.5" cy="82.4" r="1.4"/><circle cx="420.4" cy="91.0" r="1.4"/><circle cx="438.1" cy="70.3" r="1.4"/><circle cx="422.4" cy="91.5" r="1.4"/><circle cx="393.4" cy="104.7" r="1.4"/><circle cx="390.3" cy="125.4" r="1.4"/><circle cx="393.4" cy="94.7" r="1.4"/><circle cx="352.2" cy="127.9" r="1.4"/><circle cx="455.9" cy="68.5" r="1.4"/><circle cx="390.6" cy="106.4" r="1.4"/><circle cx="428.0" cy="91.7" r="1.4"/><circle cx="388.7" cy="102.4" r="1.4"/><circle cx="427.4" cy="69.1" r="1.4"/><circle cx="435.0" cy="75.9" r="1.4"/><circle cx="444.5" cy="89.1" r="1.4"/><circle cx="434.9" cy="88.6" r="1.4"/><circle cx="400.5" cy="100.1" r="1.4"/><circle cx="471.6" cy="69.0" r="1.4"/><circle cx="350.2" cy="125.8" r="1.4"/><circle cx="392.3" cy="82.5" r="1.4"/><circle cx="366.8" cy="129.2" r="1.4"/><circle cx="393.9" cy="114.9" r="1.4"/><circle cx="412.2" cy="83.2" r="1.4"/><circle cx="396.5" cy="114.8" r="1.4"/><circle cx="376.0" cy="117.7" r="1.4"/><circle cx="485.6" cy="73.4" r="1.4"/><circle cx="396.9" cy="90.8" r="1.4"/><circle cx="373.8" cy="113.6" r="1.4"/><circle cx="407.7" cy="98.7" r="1.4"/><circle cx="415.6" cy="108.7" r="1.4"/><circle cx="409.4" cy="100.2" r="1.4"/><circle cx="381.3" cy="124.0" r="1.4"/><circle cx="425.0" cy="80.1" r="1.4"/><circle cx="407.8" cy="104.6" r="1.4"/><circle cx="405.4" cy="86.1" r="1.4"/><circle cx="436.5" cy="73.1" r="1.4"/><circle cx="406.2" cy="93.6" r="1.4"/><circle cx="369.0" cy="120.7" r="1.4"/><circle cx="463.7" cy="68.8" r="1.4"/><circle cx="408.7" cy="83.8" r="1.4"/><circle cx="338.0" cy="144.7" r="1.4"/><circle cx="337.0" cy="141.7" r="1.4"/><circle cx="343.9" cy="153.8" r="1.4"/><circle cx="431.7" cy="83.9" r="1.4"/><circle cx="385.1" cy="117.9" r="1.4"/><circle cx="336.6" cy="141.7" r="1.4"/><circle cx="375.4" cy="109.2" r="1.4"/><circle cx="413.1" cy="93.0" r="1.4"/><circle cx="415.6" cy="93.2" r="1.4"/><circle cx="485.5" cy="70.2" r="1.4"/><circle cx="351.9" cy="124.6" r="1.4"/><circle cx="373.7" cy="130.3" r="1.4"/><circle cx="379.3" cy="119.4" r="1.4"/><circle cx="377.9" cy="123.4" r="1.4"/><circle cx="360.2" cy="130.6" r="1.4"/><circle cx="362.2" cy="124.6" r="1.4"/><circle cx="391.1" cy="129.1" r="1.4"/><circle cx="426.5" cy="91.2" r="1.4"/><circle cx="355.3" cy="133.9" r="1.4"/><circle cx="395.9" cy="103.8" r="1.4"/><circle cx="389.9" cy="105.6" r="1.4"/><circle cx="366.0" cy="110.3" r="1.4"/><circle cx="441.7" cy="66.5" r="1.4"/><circle cx="412.8" cy="82.7" r="1.4"/><circle cx="352.1" cy="130.7" r="1.4"/><circle cx="378.5" cy="109.7" r="1.4"/><circle cx="344.7" cy="132.5" r="1.4"/><circle cx="382.7" cy="113.4" r="1.4"/><circle cx="367.5" cy="115.7" r="1.4"/><circle cx="411.5" cy="96.4" r="1.4"/><circle cx="422.1" cy="93.2" r="1.4"/><circle cx="417.4" cy="106.7" r="1.4"/><circle cx="404.5" cy="102.2" r="1.4"/><circle cx="349.0" cy="128.8" r="1.4"/><circle cx="352.1" cy="130.6" r="1.4"/><circle cx="422.7" cy="100.9" r="1.4"/><circle cx="346.7" cy="131.1" r="1.4"/><circle cx="375.4" cy="120.4" r="1.4"/><circle cx="364.5" cy="121.3" r="1.4"/><circle cx="431.8" cy="86.5" r="1.4"/><circle cx="347.5" cy="140.3" r="1.4"/><circle cx="420.3" cy="82.2" r="1.4"/><circle cx="428.2" cy="77.8" r="1.4"/><circle cx="401.6" cy="93.4" r="1.4"/><circle cx="377.8" cy="105.1" r="1.4"/><circle cx="366.7" cy="124.3" r="1.4"/><circle cx="421.7" cy="87.2" r="1.4"/><circle cx="395.6" cy="106.5" r="1.4"/><circle cx="427.0" cy="90.9" r="1.4"/><circle cx="403.0" cy="85.2" r="1.4"/><circle cx="427.1" cy="73.9" r="1.4"/><circle cx="441.2" cy="60.2" r="1.4"/><circle cx="368.6" cy="129.2" r="1.4"/><circle cx="420.9" cy="91.0" r="1.4"/><circle cx="403.9" cy="91.5" r="1.4"/><circle cx="384.3" cy="121.5" r="1.4"/><circle cx="359.6" cy="135.1" r="1.4"/><circle cx="415.8" cy="85.0" r="1.4"/><circle cx="347.7" cy="158.9" r="1.4"/><circle cx="424.5" cy="96.2" r="1.4"/><circle cx="348.3" cy="134.5" r="1.4"/><circle cx="411.0" cy="81.7" r="1.4"/><circle cx="409.4" cy="104.6" r="1.4"/><circle cx="381.7" cy="114.2" r="1.4"/><circle cx="400.0" cy="105.7" r="1.4"/><circle cx="428.2" cy="75.4" r="1.4"/><circle cx="431.0" cy="70.1" r="1.4"/><circle cx="389.3" cy="104.8" r="1.4"/><circle cx="338.9" cy="155.2" r="1.4"/><circle cx="419.5" cy="84.9" r="1.4"/><circle cx="381.3" cy="109.9" r="1.4"/><circle cx="425.6" cy="69.0" r="1.4"/><circle cx="442.5" cy="70.9" r="1.4"/><circle cx="366.5" cy="127.9" r="1.4"/><circle cx="455.9" cy="67.7" r="1.4"/><circle cx="393.3" cy="107.7" r="1.4"/><circle cx="463.1" cy="80.6" r="1.4"/><circle cx="406.8" cy="79.5" r="1.4"/><circle cx="432.6" cy="81.3" r="1.4"/><circle cx="358.9" cy="137.3" r="1.4"/><circle cx="426.1" cy="76.8" r="1.4"/><circle cx="351.5" cy="140.3" r="1.4"/><circle cx="403.2" cy="89.7" r="1.4"/><circle cx="369.3" cy="111.3" r="1.4"/><circle cx="436.5" cy="87.5" r="1.4"/><circle cx="463.9" cy="76.3" r="1.4"/><circle cx="386.4" cy="98.9" r="1.4"/><circle cx="390.4" cy="114.3" r="1.4"/><circle cx="474.5" cy="67.8" r="1.4"/><circle cx="381.0" cy="100.4" r="1.4"/><circle cx="367.3" cy="114.2" r="1.4"/><circle cx="445.6" cy="64.2" r="1.4"/><circle cx="337.4" cy="149.2" r="1.4"/><circle cx="426.1" cy="105.6" r="1.4"/><circle cx="365.6" cy="115.3" r="1.4"/><circle cx="411.5" cy="99.2" r="1.4"/><circle cx="412.2" cy="92.3" r="1.4"/><circle cx="421.0" cy="92.0" r="1.4"/><circle cx="353.1" cy="125.0" r="1.4"/><circle cx="406.5" cy="82.5" r="1.4"/><circle cx="408.6" cy="100.4" r="1.4"/><circle cx="356.2" cy="129.5" r="1.4"/><circle cx="361.3" cy="138.6" r="1.4"/><circle cx="395.8" cy="105.6" r="1.4"/><circle cx="384.8" cy="104.3" r="1.4"/><circle cx="364.4" cy="120.5" r="1.4"/><circle cx="409.7" cy="108.0" r="1.4"/><circle cx="389.6" cy="109.1" r="1.4"/><circle cx="439.2" cy="70.7" r="1.4"/><circle cx="352.5" cy="131.5" r="1.4"/><circle cx="341.2" cy="141.9" r="1.4"/><circle cx="374.9" cy="111.3" r="1.4"/><circle cx="369.2" cy="124.7" r="1.4"/><circle cx="362.7" cy="118.6" r="1.4"/><circle cx="337.3" cy="152.7" r="1.4"/><circle cx="419.2" cy="99.8" r="1.4"/><circle cx="375.7" cy="120.0" r="1.4"/><circle cx="448.4" cy="71.7" r="1.4"/><circle cx="390.8" cy="115.7" r="1.4"/><circle cx="426.4" cy="98.6" r="1.4"/><circle cx="385.4" cy="114.2" r="1.4"/><circle cx="383.2" cy="96.2" r="1.4"/><circle cx="401.5" cy="88.1" r="1.4"/><circle cx="394.0" cy="78.8" r="1.4"/><circle cx="431.3" cy="89.7" r="1.4"/><circle cx="402.3" cy="91.7" r="1.4"/><circle cx="398.0" cy="97.9" r="1.4"/><circle cx="370.4" cy="107.6" r="1.4"/><circle cx="422.0" cy="81.2" r="1.4"/><circle cx="395.7" cy="90.1" r="1.4"/><circle cx="404.6" cy="96.2" r="1.4"/><circle cx="415.3" cy="104.0" r="1.4"/><circle cx="453.7" cy="74.2" r="1.4"/><circle cx="395.2" cy="98.6" r="1.4"/><circle cx="366.2" cy="125.7" r="1.4"/><circle cx="420.2" cy="90.4" r="1.4"/><circle cx="447.2" cy="80.6" r="1.4"/><circle cx="398.0" cy="70.7" r="1.4"/><circle cx="471.4" cy="75.9" r="1.4"/><circle cx="374.2" cy="121.6" r="1.4"/><circle cx="456.6" cy="69.1" r="1.4"/><circle cx="385.8" cy="110.5" r="1.4"/><circle cx="467.6" cy="68.9" r="1.4"/><circle cx="381.1" cy="105.5" r="1.4"/><circle cx="380.2" cy="116.5" r="1.4"/><circle cx="380.4" cy="109.4" r="1.4"/><circle cx="445.1" cy="62.7" r="1.4"/><circle cx="376.7" cy="101.3" r="1.4"/><circle cx="408.8" cy="88.2" r="1.4"/><circle cx="385.0" cy="121.3" r="1.4"/><circle cx="451.2" cy="76.6" r="1.4"/><circle cx="463.2" cy="72.8" r="1.4"/><circle cx="422.3" cy="76.6" r="1.4"/><circle cx="410.1" cy="97.6" r="1.4"/><circle cx="365.9" cy="119.7" r="1.4"/><circle cx="368.0" cy="113.4" r="1.4"/><circle cx="442.5" cy="80.2" r="1.4"/><circle cx="376.6" cy="114.5" r="1.4"/><circle cx="444.5" cy="74.1" r="1.4"/><circle cx="356.9" cy="140.9" r="1.4"/><circle cx="461.5" cy="72.2" r="1.4"/><circle cx="357.6" cy="131.2" r="1.4"/><circle cx="361.2" cy="135.4" r="1.4"/><circle cx="412.9" cy="98.2" r="1.4"/><circle cx="341.0" cy="134.3" r="1.4"/><circle cx="398.2" cy="104.4" r="1.4"/><circle cx="396.2" cy="94.8" r="1.4"/><circle cx="402.4" cy="91.0" r="1.4"/><circle cx="384.0" cy="103.6" r="1.4"/><circle cx="396.1" cy="103.6" r="1.4"/><circle cx="463.1" cy="78.0" r="1.4"/><circle cx="363.9" cy="133.4" r="1.4"/><circle cx="360.2" cy="140.9" r="1.4"/><circle cx="419.7" cy="87.2" r="1.4"/><circle cx="381.7" cy="99.4" r="1.4"/><circle cx="372.6" cy="106.7" r="1.4"/><circle cx="426.9" cy="86.0" r="1.4"/><circle cx="422.9" cy="95.9" r="1.4"/><circle cx="419.4" cy="76.5" r="1.4"/><circle cx="382.9" cy="125.3" r="1.4"/><circle cx="418.1" cy="98.6" r="1.4"/><circle cx="404.0" cy="96.6" r="1.4"/><circle cx="385.2" cy="97.9" r="1.4"/><circle cx="373.1" cy="111.5" r="1.4"/><circle cx="364.9" cy="136.8" r="1.4"/><circle cx="482.8" cy="67.6" r="1.4"/><circle cx="349.0" cy="129.3" r="1.4"/><circle cx="425.3" cy="76.7" r="1.4"/><circle cx="371.1" cy="128.4" r="1.4"/><circle cx="415.7" cy="90.0" r="1.4"/><circle cx="368.8" cy="144.8" r="1.4"/><circle cx="419.2" cy="92.6" r="1.4"/><circle cx="385.4" cy="105.6" r="1.4"/><circle cx="342.8" cy="135.6" r="1.4"/><circle cx="374.1" cy="113.1" r="1.4"/><circle cx="368.2" cy="123.5" r="1.4"/><circle cx="413.1" cy="96.6" r="1.4"/><circle cx="370.4" cy="102.4" r="1.4"/><circle cx="424.6" cy="72.2" r="1.4"/><circle cx="351.3" cy="128.4" r="1.4"/><circle cx="423.3" cy="89.5" r="1.4"/><circle cx="376.6" cy="113.4" r="1.4"/><circle cx="358.5" cy="138.4" r="1.4"/><circle cx="438.9" cy="75.0" r="1.4"/><circle cx="370.5" cy="110.1" r="1.4"/><circle cx="416.6" cy="96.3" r="1.4"/><circle cx="408.4" cy="94.4" r="1.4"/><circle cx="352.9" cy="136.1" r="1.4"/><circle cx="347.9" cy="129.7" r="1.4"/><circle cx="419.1" cy="106.1" r="1.4"/><circle cx="407.6" cy="80.3" r="1.4"/><circle cx="436.4" cy="98.8" r="1.4"/><circle cx="398.8" cy="102.5" r="1.4"/><circle cx="442.4" cy="81.0" r="1.4"/><circle cx="452.0" cy="70.4" r="1.4"/><circle cx="371.2" cy="120.1" r="1.4"/><circle cx="371.3" cy="122.9" r="1.4"/><circle cx="387.8" cy="101.3" r="1.4"/><circle cx="405.1" cy="93.1" r="1.4"/><circle cx="436.1" cy="79.2" r="1.4"/><circle cx="421.6" cy="90.4" r="1.4"/><circle cx="369.1" cy="131.8" r="1.4"/><circle cx="380.9" cy="124.9" r="1.4"/><circle cx="411.8" cy="97.9" r="1.4"/><circle cx="370.5" cy="115.3" r="1.4"/><circle cx="367.0" cy="115.3" r="1.4"/><circle cx="442.8" cy="87.4" r="1.4"/><circle cx="437.5" cy="72.7" r="1.4"/><circle cx="469.1" cy="75.3" r="1.4"/><circle cx="390.5" cy="117.0" r="1.4"/><circle cx="424.3" cy="86.4" r="1.4"/><circle cx="393.6" cy="98.4" r="1.4"/><circle cx="353.5" cy="136.0" r="1.4"/><circle cx="426.8" cy="90.8" r="1.4"/><circle cx="428.1" cy="111.5" r="1.4"/><circle cx="417.3" cy="88.3" r="1.4"/><circle cx="350.8" cy="135.7" r="1.4"/><circle cx="432.9" cy="85.1" r="1.4"/><circle cx="343.0" cy="142.4" r="1.4"/><circle cx="429.3" cy="85.9" r="1.4"/><circle cx="396.5" cy="123.2" r="1.4"/><circle cx="444.9" cy="70.0" r="1.4"/><circle cx="434.3" cy="77.0" r="1.4"/><circle cx="397.5" cy="92.3" r="1.4"/><circle cx="343.0" cy="136.4" r="1.4"/><circle cx="363.0" cy="131.1" r="1.4"/><circle cx="396.2" cy="104.1" r="1.4"/><circle cx="429.4" cy="66.5" r="1.4"/><circle cx="433.2" cy="64.5" r="1.4"/><circle cx="370.1" cy="124.8" r="1.4"/><circle cx="436.9" cy="81.2" r="1.4"/><circle cx="343.9" cy="134.3" r="1.4"/><circle cx="399.2" cy="99.0" r="1.4"/><circle cx="400.4" cy="91.3" r="1.4"/><circle cx="339.6" cy="137.3" r="1.4"/><circle cx="394.0" cy="102.4" r="1.4"/><circle cx="485.2" cy="67.4" r="1.4"/><circle cx="434.6" cy="92.7" r="1.4"/><circle cx="442.2" cy="80.9" r="1.4"/><circle cx="463.3" cy="68.0" r="1.4"/><circle cx="386.1" cy="102.1" r="1.4"/><circle cx="412.3" cy="87.1" r="1.4"/><circle cx="417.7" cy="94.4" r="1.4"/><circle cx="387.1" cy="113.7" r="1.4"/><circle cx="418.7" cy="83.6" r="1.4"/><circle cx="463.3" cy="82.5" r="1.4"/><circle cx="377.3" cy="107.4" r="1.4"/><circle cx="347.0" cy="156.4" r="1.4"/><circle cx="407.1" cy="96.1" r="1.4"/><circle cx="400.0" cy="111.4" r="1.4"/><circle cx="430.5" cy="69.5" r="1.4"/><circle cx="429.8" cy="73.3" r="1.4"/><circle cx="372.9" cy="121.2" r="1.4"/><circle cx="353.4" cy="134.0" r="1.4"/><circle cx="401.3" cy="81.4" r="1.4"/><circle cx="366.3" cy="120.3" r="1.4"/><circle cx="400.7" cy="95.2" r="1.4"/><circle cx="356.2" cy="127.2" r="1.4"/><circle cx="420.8" cy="96.4" r="1.4"/><circle cx="357.7" cy="135.3" r="1.4"/><circle cx="366.7" cy="142.4" r="1.4"/><circle cx="387.0" cy="87.6" r="1.4"/><circle cx="367.9" cy="119.2" r="1.4"/><circle cx="350.1" cy="124.9" r="1.4"/><circle cx="426.9" cy="81.1" r="1.4"/><circle cx="446.5" cy="75.6" r="1.4"/><circle cx="397.9" cy="101.1" r="1.4"/><circle cx="456.4" cy="78.6" r="1.4"/><circle cx="393.2" cy="108.6" r="1.4"/><circle cx="412.7" cy="79.9" r="1.4"/><circle cx="467.4" cy="70.1" r="1.4"/><circle cx="426.9" cy="85.1" r="1.4"/><circle cx="482.1" cy="67.9" r="1.4"/><circle cx="451.6" cy="56.4" r="1.4"/><circle cx="357.6" cy="157.5" r="1.4"/><circle cx="455.1" cy="64.4" r="1.4"/><circle cx="359.1" cy="134.2" r="1.4"/><circle cx="377.3" cy="121.1" r="1.4"/><circle cx="344.5" cy="132.1" r="1.4"/><circle cx="461.7" cy="69.0" r="1.4"/><circle cx="353.9" cy="128.1" r="1.4"/><circle cx="414.5" cy="90.6" r="1.4"/><circle cx="416.4" cy="87.7" r="1.4"/><circle cx="410.5" cy="95.1" r="1.4"/><circle cx="436.3" cy="87.5" r="1.4"/><circle cx="417.3" cy="106.2" r="1.4"/><circle cx="352.2" cy="140.5" r="1.4"/><circle cx="421.5" cy="66.0" r="1.4"/><circle cx="440.3" cy="82.4" r="1.4"/><circle cx="373.7" cy="109.3" r="1.4"/><circle cx="423.1" cy="90.3" r="1.4"/><circle cx="474.1" cy="72.0" r="1.4"/><circle cx="359.7" cy="122.2" r="1.4"/><circle cx="423.7" cy="108.3" r="1.4"/><circle cx="457.9" cy="78.3" r="1.4"/><circle cx="426.6" cy="90.2" r="1.4"/><circle cx="386.3" cy="99.9" r="1.4"/><circle cx="468.7" cy="72.8" r="1.4"/><circle cx="417.5" cy="100.2" r="1.4"/><circle cx="410.2" cy="77.8" r="1.4"/><circle cx="437.0" cy="71.8" r="1.4"/><circle cx="415.2" cy="73.3" r="1.4"/><circle cx="352.1" cy="127.6" r="1.4"/><circle cx="338.9" cy="138.1" r="1.4"/><circle cx="390.3" cy="112.4" r="1.4"/><circle cx="349.8" cy="132.5" r="1.4"/><circle cx="345.8" cy="156.6" r="1.4"/><circle cx="377.0" cy="107.6" r="1.4"/><circle cx="351.8" cy="126.2" r="1.4"/><circle cx="399.2" cy="92.5" r="1.4"/><circle cx="444.6" cy="73.1" r="1.4"/><circle cx="393.9" cy="106.2" r="1.4"/><circle cx="409.8" cy="61.2" r="1.4"/><circle cx="381.5" cy="119.1" r="1.4"/><circle cx="441.7" cy="86.9" r="1.4"/><circle cx="475.3" cy="81.5" r="1.4"/><circle cx="398.9" cy="94.9" r="1.4"/><circle cx="428.0" cy="77.7" r="1.4"/><circle cx="372.8" cy="116.7" r="1.4"/><circle cx="382.9" cy="123.5" r="1.4"/><circle cx="414.2" cy="89.4" r="1.4"/><circle cx="364.0" cy="119.2" r="1.4"/><circle cx="423.6" cy="98.7" r="1.4"/><circle cx="438.0" cy="66.6" r="1.4"/><circle cx="383.3" cy="119.3" r="1.4"/><circle cx="472.6" cy="67.3" r="1.4"/><circle cx="366.6" cy="121.8" r="1.4"/><circle cx="383.9" cy="106.0" r="1.4"/><circle cx="413.9" cy="87.2" r="1.4"/><circle cx="427.4" cy="74.8" r="1.4"/><circle cx="368.6" cy="129.2" r="1.4"/><circle cx="429.9" cy="90.5" r="1.4"/><circle cx="366.2" cy="124.3" r="1.4"/><circle cx="371.1" cy="109.5" r="1.4"/><circle cx="353.2" cy="129.8" r="1.4"/><circle cx="364.3" cy="119.6" r="1.4"/><circle cx="346.2" cy="139.1" r="1.4"/><circle cx="345.0" cy="141.9" r="1.4"/><circle cx="364.5" cy="134.6" r="1.4"/><circle cx="359.2" cy="131.0" r="1.4"/><circle cx="395.8" cy="99.3" r="1.4"/><circle cx="443.2" cy="58.4" r="1.4"/><circle cx="392.2" cy="97.5" r="1.4"/><circle cx="366.4" cy="134.9" r="1.4"/><circle cx="430.9" cy="84.9" r="1.4"/><circle cx="387.3" cy="129.1" r="1.4"/><circle cx="428.0" cy="86.9" r="1.4"/><circle cx="413.4" cy="103.7" r="1.4"/><circle cx="372.1" cy="120.5" r="1.4"/><circle cx="416.8" cy="90.5" r="1.4"/><circle cx="442.9" cy="54.1" r="1.4"/><circle cx="444.1" cy="80.0" r="1.4"/><circle cx="460.8" cy="76.6" r="1.4"/><circle cx="408.9" cy="93.8" r="1.4"/><circle cx="441.8" cy="75.2" r="1.4"/><circle cx="398.3" cy="121.7" r="1.4"/><circle cx="387.8" cy="109.7" r="1.4"/><circle cx="466.1" cy="54.2" r="1.4"/><circle cx="453.6" cy="77.5" r="1.4"/><circle cx="447.4" cy="87.0" r="1.4"/><circle cx="353.2" cy="128.2" r="1.4"/><circle cx="396.4" cy="85.8" r="1.4"/><circle cx="393.3" cy="96.3" r="1.4"/><circle cx="347.1" cy="122.2" r="1.4"/><circle cx="443.7" cy="84.6" r="1.4"/><circle cx="432.8" cy="76.8" r="1.4"/><circle cx="401.5" cy="108.7" r="1.4"/><circle cx="451.1" cy="75.0" r="1.4"/><circle cx="401.9" cy="92.0" r="1.4"/><circle cx="396.7" cy="103.0" r="1.4"/><circle cx="378.9" cy="119.4" r="1.4"/><circle cx="451.2" cy="82.7" r="1.4"/><circle cx="440.8" cy="68.6" r="1.4"/><circle cx="388.8" cy="108.1" r="1.4"/><circle cx="359.0" cy="132.1" r="1.4"/><circle cx="385.8" cy="98.5" r="1.4"/><circle cx="476.6" cy="70.8" r="1.4"/><circle cx="344.9" cy="138.8" r="1.4"/><circle cx="377.8" cy="120.4" r="1.4"/><circle cx="341.4" cy="133.1" r="1.4"/><circle cx="400.4" cy="109.8" r="1.4"/><circle cx="449.4" cy="64.0" r="1.4"/><circle cx="368.1" cy="124.9" r="1.4"/><circle cx="370.5" cy="120.0" r="1.4"/><circle cx="402.7" cy="116.9" r="1.4"/><circle cx="373.2" cy="109.0" r="1.4"/><circle cx="357.5" cy="130.4" r="1.4"/><circle cx="381.8" cy="105.3" r="1.4"/><circle cx="390.4" cy="108.1" r="1.4"/><circle cx="408.5" cy="102.1" r="1.4"/><circle cx="417.4" cy="97.1" r="1.4"/><circle cx="381.8" cy="116.5" r="1.4"/><circle cx="343.9" cy="138.7" r="1.4"/><circle cx="421.1" cy="78.9" r="1.4"/><circle cx="434.1" cy="79.3" r="1.4"/><circle cx="392.3" cy="94.3" r="1.4"/><circle cx="391.2" cy="111.9" r="1.4"/><circle cx="372.7" cy="127.0" r="1.4"/><circle cx="383.3" cy="122.8" r="1.4"/><circle cx="386.2" cy="102.4" r="1.4"/><circle cx="339.8" cy="145.3" r="1.4"/><circle cx="464.1" cy="80.8" r="1.4"/><circle cx="427.7" cy="87.0" r="1.4"/><circle cx="378.1" cy="117.0" r="1.4"/><circle cx="440.8" cy="72.4" r="1.4"/><circle cx="411.8" cy="84.2" r="1.4"/><circle cx="375.6" cy="115.2" r="1.4"/><circle cx="411.0" cy="86.6" r="1.4"/><circle cx="346.0" cy="127.9" r="1.4"/><circle cx="395.6" cy="100.3" r="1.4"/><circle cx="354.6" cy="138.1" r="1.4"/><circle cx="350.7" cy="127.8" r="1.4"/><circle cx="362.6" cy="137.9" r="1.4"/><circle cx="415.5" cy="100.6" r="1.4"/><circle cx="411.2" cy="90.4" r="1.4"/><circle cx="341.7" cy="136.0" r="1.4"/><circle cx="375.3" cy="113.4" r="1.4"/><circle cx="420.8" cy="94.9" r="1.4"/><circle cx="459.2" cy="75.6" r="1.4"/><circle cx="446.7" cy="88.8" r="1.4"/><circle cx="353.2" cy="135.9" r="1.4"/><circle cx="369.6" cy="133.3" r="1.4"/><circle cx="394.9" cy="105.4" r="1.4"/><circle cx="375.9" cy="103.1" r="1.4"/><circle cx="351.7" cy="124.4" r="1.4"/><circle cx="417.3" cy="89.5" r="1.4"/><circle cx="418.4" cy="90.4" r="1.4"/><circle cx="470.5" cy="80.1" r="1.4"/><circle cx="361.3" cy="136.7" r="1.4"/><circle cx="444.9" cy="82.7" r="1.4"/><circle cx="468.9" cy="67.0" r="1.4"/><circle cx="423.4" cy="73.2" r="1.4"/><circle cx="357.3" cy="143.8" r="1.4"/><circle cx="380.2" cy="99.0" r="1.4"/><circle cx="415.0" cy="94.0" r="1.4"/><circle cx="346.3" cy="129.7" r="1.4"/><circle cx="406.4" cy="99.8" r="1.4"/><circle cx="436.3" cy="91.4" r="1.4"/><circle cx="366.8" cy="149.2" r="1.4"/><circle cx="481.5" cy="74.6" r="1.4"/><circle cx="385.8" cy="121.6" r="1.4"/><circle cx="458.9" cy="66.2" r="1.4"/><circle cx="376.8" cy="118.5" r="1.4"/><circle cx="434.8" cy="57.8" r="1.4"/><circle cx="363.5" cy="118.0" r="1.4"/><circle cx="376.1" cy="103.9" r="1.4"/><circle cx="408.4" cy="102.9" r="1.4"/><circle cx="401.0" cy="101.4" r="1.4"/><circle cx="429.5" cy="95.0" r="1.4"/><circle cx="383.9" cy="109.6" r="1.4"/><circle cx="395.9" cy="108.0" r="1.4"/><circle cx="361.9" cy="128.8" r="1.4"/><circle cx="356.7" cy="131.4" r="1.4"/><circle cx="466.8" cy="73.0" r="1.4"/><circle cx="374.5" cy="120.9" r="1.4"/><circle cx="422.7" cy="59.7" r="1.4"/><circle cx="360.2" cy="129.2" r="1.4"/><circle cx="457.8" cy="80.5" r="1.4"/><circle cx="369.3" cy="121.4" r="1.4"/><circle cx="367.1" cy="113.7" r="1.4"/><circle cx="398.1" cy="97.8" r="1.4"/><circle cx="435.8" cy="75.8" r="1.4"/><circle cx="439.0" cy="88.6" r="1.4"/><circle cx="439.8" cy="57.3" r="1.4"/><circle cx="426.3" cy="105.4" r="1.4"/><circle cx="377.6" cy="114.8" r="1.4"/><circle cx="362.6" cy="122.8" r="1.4"/><circle cx="437.2" cy="73.4" r="1.4"/><circle cx="402.1" cy="106.3" r="1.4"/><circle cx="446.5" cy="65.8" r="1.4"/><circle cx="361.2" cy="138.2" r="1.4"/><circle cx="352.5" cy="128.4" r="1.4"/><circle cx="369.9" cy="110.2" r="1.4"/><circle cx="409.6" cy="82.0" r="1.4"/><circle cx="382.9" cy="116.3" r="1.4"/><circle cx="456.2" cy="67.8" r="1.4"/><circle cx="394.5" cy="101.1" r="1.4"/><circle cx="369.8" cy="125.9" r="1.4"/><circle cx="435.3" cy="88.8" r="1.4"/><circle cx="409.7" cy="103.8" r="1.4"/><circle cx="366.4" cy="124.6" r="1.4"/><circle cx="467.4" cy="79.1" r="1.4"/><circle cx="460.2" cy="77.4" r="1.4"/><circle cx="481.0" cy="75.2" r="1.4"/><circle cx="394.8" cy="105.8" r="1.4"/><circle cx="411.0" cy="83.2" r="1.4"/><circle cx="363.6" cy="124.1" r="1.4"/><circle cx="447.1" cy="58.7" r="1.4"/><circle cx="340.0" cy="141.1" r="1.4"/><circle cx="426.7" cy="97.9" r="1.4"/><circle cx="397.8" cy="98.7" r="1.4"/><circle cx="445.7" cy="69.2" r="1.4"/><circle cx="353.3" cy="142.1" r="1.4"/><circle cx="437.0" cy="100.7" r="1.4"/><circle cx="343.8" cy="137.2" r="1.4"/><circle cx="445.3" cy="81.9" r="1.4"/><circle cx="370.9" cy="112.0" r="1.4"/><circle cx="413.7" cy="91.1" r="1.4"/><circle cx="421.2" cy="88.1" r="1.4"/><circle cx="386.8" cy="111.9" r="1.4"/><circle cx="376.3" cy="102.5" r="1.4"/><circle cx="382.7" cy="104.6" r="1.4"/><circle cx="375.9" cy="119.8" r="1.4"/><circle cx="448.6" cy="63.3" r="1.4"/><circle cx="349.9" cy="133.7" r="1.4"/><circle cx="454.7" cy="64.5" r="1.4"/><circle cx="439.2" cy="83.5" r="1.4"/><circle cx="425.4" cy="86.1" r="1.4"/><circle cx="401.4" cy="87.6" r="1.4"/><circle cx="366.3" cy="123.5" r="1.4"/><circle cx="447.4" cy="73.6" r="1.4"/><circle cx="436.2" cy="82.3" r="1.4"/><circle cx="366.4" cy="117.3" r="1.4"/><circle cx="352.9" cy="134.2" r="1.4"/><circle cx="411.0" cy="104.0" r="1.4"/><circle cx="366.0" cy="120.0" r="1.4"/><circle cx="463.3" cy="65.1" r="1.4"/><circle cx="440.7" cy="81.8" r="1.4"/><circle cx="374.2" cy="111.5" r="1.4"/><circle cx="365.0" cy="127.3" r="1.4"/><circle cx="375.7" cy="118.2" r="1.4"/><circle cx="459.2" cy="69.5" r="1.4"/><circle cx="366.6" cy="131.7" r="1.4"/><circle cx="404.3" cy="89.4" r="1.4"/><circle cx="393.0" cy="91.8" r="1.4"/><circle cx="392.3" cy="91.5" r="1.4"/><circle cx="377.9" cy="114.4" r="1.4"/><circle cx="403.6" cy="87.1" r="1.4"/><circle cx="474.9" cy="73.4" r="1.4"/><circle cx="431.5" cy="65.4" r="1.4"/><circle cx="376.3" cy="106.1" r="1.4"/><circle cx="405.4" cy="122.1" r="1.4"/><circle cx="390.2" cy="98.8" r="1.4"/><circle cx="342.0" cy="135.3" r="1.4"/><circle cx="423.7" cy="82.8" r="1.4"/><circle cx="431.1" cy="93.6" r="1.4"/><circle cx="441.2" cy="82.2" r="1.4"/><circle cx="383.3" cy="128.2" r="1.4"/><circle cx="393.4" cy="103.8" r="1.4"/><circle cx="402.3" cy="91.7" r="1.4"/><circle cx="419.9" cy="92.3" r="1.4"/><circle cx="367.5" cy="116.7" r="1.4"/><circle cx="400.9" cy="104.6" r="1.4"/><circle cx="443.6" cy="62.5" r="1.4"/><circle cx="394.3" cy="109.1" r="1.4"/><circle cx="479.1" cy="67.9" r="1.4"/><circle cx="393.5" cy="106.1" r="1.4"/><circle cx="440.5" cy="89.3" r="1.4"/><circle cx="430.6" cy="66.2" r="1.4"/><circle cx="366.1" cy="130.4" r="1.4"/><circle cx="421.4" cy="77.7" r="1.4"/><circle cx="380.9" cy="107.3" r="1.4"/><circle cx="405.4" cy="83.1" r="1.4"/><circle cx="396.1" cy="131.4" r="1.4"/><circle cx="408.4" cy="91.1" r="1.4"/><circle cx="423.7" cy="83.5" r="1.4"/><circle cx="449.7" cy="82.4" r="1.4"/><circle cx="372.8" cy="107.4" r="1.4"/><circle cx="464.9" cy="60.8" r="1.4"/><circle cx="431.8" cy="103.4" r="1.4"/><circle cx="390.7" cy="108.4" r="1.4"/><circle cx="383.2" cy="104.3" r="1.4"/><circle cx="410.2" cy="97.7" r="1.4"/><circle cx="467.9" cy="66.1" r="1.4"/><circle cx="429.6" cy="80.4" r="1.4"/><circle cx="358.2" cy="135.5" r="1.4"/><circle cx="400.0" cy="98.3" r="1.4"/><circle cx="482.0" cy="73.2" r="1.4"/><circle cx="386.8" cy="99.6" r="1.4"/><circle cx="377.5" cy="137.7" r="1.4"/><circle cx="444.0" cy="63.4" r="1.4"/><circle cx="418.0" cy="96.8" r="1.4"/><circle cx="426.2" cy="85.3" r="1.4"/><circle cx="442.7" cy="72.3" r="1.4"/><circle cx="425.0" cy="84.0" r="1.4"/><circle cx="444.2" cy="75.8" r="1.4"/><circle cx="454.1" cy="67.0" r="1.4"/><circle cx="378.8" cy="105.8" r="1.4"/><circle cx="365.8" cy="128.0" r="1.4"/><circle cx="374.6" cy="115.0" r="1.4"/><circle cx="388.5" cy="101.2" r="1.4"/><circle cx="399.9" cy="95.6" r="1.4"/><circle cx="444.8" cy="96.0" r="1.4"/><circle cx="404.1" cy="101.0" r="1.4"/><circle cx="429.3" cy="84.6" r="1.4"/><circle cx="337.9" cy="142.3" r="1.4"/><circle cx="373.6" cy="117.8" r="1.4"/><circle cx="427.7" cy="85.2" r="1.4"/><circle cx="434.7" cy="74.9" r="1.4"/><circle cx="418.3" cy="81.7" r="1.4"/><circle cx="478.1" cy="71.0" r="1.4"/><circle cx="473.7" cy="69.6" r="1.4"/><circle cx="353.3" cy="139.0" r="1.4"/><circle cx="418.5" cy="96.4" r="1.4"/><circle cx="408.0" cy="102.2" r="1.4"/><circle cx="343.7" cy="143.4" r="1.4"/><circle cx="427.5" cy="76.3" r="1.4"/><circle cx="343.4" cy="145.0" r="1.4"/><circle cx="421.0" cy="77.4" r="1.4"/><circle cx="372.7" cy="122.6" r="1.4"/><circle cx="432.8" cy="114.5" r="1.4"/><circle cx="446.9" cy="74.1" r="1.4"/><circle cx="428.0" cy="86.8" r="1.4"/><circle cx="386.8" cy="109.7" r="1.4"/><circle cx="419.7" cy="90.0" r="1.4"/><circle cx="383.1" cy="116.5" r="1.4"/><circle cx="362.8" cy="121.7" r="1.4"/><circle cx="423.1" cy="56.9" r="1.4"/><circle cx="399.2" cy="93.0" r="1.4"/><circle cx="413.0" cy="85.6" r="1.4"/><circle cx="364.3" cy="120.3" r="1.4"/><circle cx="366.0" cy="117.3" r="1.4"/><circle cx="395.9" cy="100.9" r="1.4"/><circle cx="455.9" cy="81.3" r="1.4"/><circle cx="468.7" cy="74.4" r="1.4"/><circle cx="431.6" cy="80.1" r="1.4"/><circle cx="378.4" cy="120.1" r="1.4"/><circle cx="351.2" cy="144.4" r="1.4"/><circle cx="436.4" cy="75.6" r="1.4"/><circle cx="358.2" cy="146.3" r="1.4"/><circle cx="412.8" cy="90.1" r="1.4"/><circle cx="347.6" cy="141.6" r="1.4"/><circle cx="433.4" cy="84.2" r="1.4"/><circle cx="359.1" cy="137.8" r="1.4"/><circle cx="410.1" cy="91.6" r="1.4"/><circle cx="369.5" cy="117.6" r="1.4"/><circle cx="339.0" cy="145.1" r="1.4"/><circle cx="367.9" cy="129.2" r="1.4"/><circle cx="368.2" cy="125.8" r="1.4"/><circle cx="375.3" cy="118.4" r="1.4"/><circle cx="382.4" cy="118.0" r="1.4"/><circle cx="413.1" cy="82.1" r="1.4"/><circle cx="405.2" cy="103.4" r="1.4"/><circle cx="375.1" cy="111.2" r="1.4"/><circle cx="345.3" cy="138.8" r="1.4"/><circle cx="406.5" cy="92.8" r="1.4"/><circle cx="391.3" cy="122.2" r="1.4"/><circle cx="442.5" cy="81.2" r="1.4"/><circle cx="355.0" cy="131.4" r="1.4"/><circle cx="422.4" cy="95.1" r="1.4"/><circle cx="374.4" cy="127.9" r="1.4"/><circle cx="377.7" cy="109.8" r="1.4"/><circle cx="405.4" cy="92.7" r="1.4"/><circle cx="381.2" cy="114.7" r="1.4"/><circle cx="476.2" cy="71.5" r="1.4"/><circle cx="357.9" cy="133.9" r="1.4"/><circle cx="430.8" cy="90.9" r="1.4"/><circle cx="408.7" cy="104.2" r="1.4"/><circle cx="380.4" cy="125.8" r="1.4"/><circle cx="419.2" cy="88.7" r="1.4"/><circle cx="402.8" cy="92.2" r="1.4"/><circle cx="407.5" cy="117.1" r="1.4"/><circle cx="348.9" cy="137.2" r="1.4"/><circle cx="388.4" cy="108.2" r="1.4"/><circle cx="393.6" cy="94.6" r="1.4"/><circle cx="421.2" cy="106.5" r="1.4"/><circle cx="346.8" cy="144.5" r="1.4"/><circle cx="387.7" cy="105.0" r="1.4"/><circle cx="348.2" cy="141.8" r="1.4"/><circle cx="440.9" cy="62.8" r="1.4"/><circle cx="426.4" cy="91.1" r="1.4"/><circle cx="427.6" cy="78.2" r="1.4"/><circle cx="385.3" cy="98.0" r="1.4"/><circle cx="422.2" cy="83.6" r="1.4"/><circle cx="471.9" cy="84.3" r="1.4"/><circle cx="393.6" cy="136.6" r="1.4"/><circle cx="472.9" cy="65.0" r="1.4"/><circle cx="423.0" cy="78.6" r="1.4"/><circle cx="372.1" cy="116.1" r="1.4"/><circle cx="357.3" cy="134.8" r="1.4"/><circle cx="452.7" cy="76.5" r="1.4"/><circle cx="424.9" cy="74.4" r="1.4"/><circle cx="384.2" cy="110.0" r="1.4"/><circle cx="452.7" cy="80.2" r="1.4"/><circle cx="413.2" cy="98.5" r="1.4"/><circle cx="463.8" cy="65.5" r="1.4"/><circle cx="433.0" cy="87.1" r="1.4"/><circle cx="374.3" cy="121.0" r="1.4"/><circle cx="423.0" cy="99.6" r="1.4"/><circle cx="424.1" cy="85.1" r="1.4"/><circle cx="452.7" cy="69.8" r="1.4"/><circle cx="398.6" cy="107.0" r="1.4"/><circle cx="456.7" cy="83.4" r="1.4"/><circle cx="419.7" cy="91.6" r="1.4"/><circle cx="419.9" cy="85.5" r="1.4"/><circle cx="403.7" cy="93.6" r="1.4"/><circle cx="390.4" cy="108.1" r="1.4"/><circle cx="462.7" cy="82.7" r="1.4"/><circle cx="420.4" cy="85.3" r="1.4"/><circle cx="382.9" cy="114.2" r="1.4"/><circle cx="452.9" cy="81.6" r="1.4"/><circle cx="425.5" cy="79.0" r="1.4"/><circle cx="350.9" cy="133.0" r="1.4"/><circle cx="427.8" cy="65.5" r="1.4"/><circle cx="479.6" cy="66.0" r="1.4"/><circle cx="428.1" cy="75.0" r="1.4"/><circle cx="400.4" cy="114.0" r="1.4"/><circle cx="434.7" cy="77.5" r="1.4"/><circle cx="339.4" cy="142.0" r="1.4"/><circle cx="357.2" cy="136.6" r="1.4"/><circle cx="451.2" cy="70.4" r="1.4"/><circle cx="445.9" cy="71.1" r="1.4"/><circle cx="409.1" cy="99.8" r="1.4"/><circle cx="427.6" cy="80.1" r="1.4"/><circle cx="381.6" cy="97.3" r="1.4"/><circle cx="346.7" cy="135.1" r="1.4"/><circle cx="426.7" cy="72.0" r="1.4"/><circle cx="353.8" cy="128.2" r="1.4"/><circle cx="429.9" cy="79.5" r="1.4"/><circle cx="391.4" cy="115.5" r="1.4"/><circle cx="462.2" cy="73.9" r="1.4"/><circle cx="394.5" cy="102.8" r="1.4"/><circle cx="396.1" cy="108.0" r="1.4"/><circle cx="384.4" cy="103.2" r="1.4"/><circle cx="450.4" cy="82.3" r="1.4"/><circle cx="455.5" cy="59.8" r="1.4"/><circle cx="396.1" cy="99.4" r="1.4"/><circle cx="485.5" cy="78.3" r="1.4"/><circle cx="367.1" cy="122.3" r="1.4"/><circle cx="369.4" cy="121.0" r="1.4"/><circle cx="473.9" cy="75.1" r="1.4"/><circle cx="441.5" cy="80.4" r="1.4"/><circle cx="409.9" cy="81.4" r="1.4"/><circle cx="387.4" cy="105.8" r="1.4"/><circle cx="377.5" cy="102.7" r="1.4"/><circle cx="418.8" cy="83.4" r="1.4"/><circle cx="366.5" cy="115.2" r="1.4"/><circle cx="468.1" cy="71.4" r="1.4"/><circle cx="407.3" cy="102.1" r="1.4"/><circle cx="362.6" cy="136.0" r="1.4"/><circle cx="366.6" cy="117.1" r="1.4"/><circle cx="418.5" cy="67.6" r="1.4"/><circle cx="474.6" cy="75.8" r="1.4"/><circle cx="472.5" cy="74.3" r="1.4"/><circle cx="388.6" cy="112.9" r="1.4"/><circle cx="363.2" cy="114.9" r="1.4"/><circle cx="441.6" cy="88.8" r="1.4"/><circle cx="362.8" cy="132.8" r="1.4"/><circle cx="367.0" cy="124.1" r="1.4"/><circle cx="390.5" cy="100.2" r="1.4"/><circle cx="387.6" cy="128.2" r="1.4"/><circle cx="376.0" cy="117.5" r="1.4"/><circle cx="394.0" cy="103.4" r="1.4"/><circle cx="384.7" cy="98.6" r="1.4"/><circle cx="378.3" cy="120.7" r="1.4"/><circle cx="444.8" cy="72.4" r="1.4"/><circle cx="388.3" cy="89.7" r="1.4"/><circle cx="352.1" cy="142.1" r="1.4"/><circle cx="407.4" cy="87.7" r="1.4"/><circle cx="397.2" cy="105.3" r="1.4"/><circle cx="337.5" cy="143.1" r="1.4"/><circle cx="469.1" cy="84.3" r="1.4"/><circle cx="401.3" cy="72.9" r="1.4"/><circle cx="397.8" cy="105.4" r="1.4"/><circle cx="393.5" cy="114.6" r="1.4"/><circle cx="381.4" cy="104.6" r="1.4"/><circle cx="397.3" cy="98.8" r="1.4"/><circle cx="385.2" cy="104.3" r="1.4"/><circle cx="344.0" cy="139.2" r="1.4"/><circle cx="425.3" cy="95.8" r="1.4"/><circle cx="430.3" cy="84.3" r="1.4"/><circle cx="369.7" cy="117.7" r="1.4"/><circle cx="449.0" cy="57.6" r="1.4"/><circle cx="378.9" cy="116.8" r="1.4"/><circle cx="432.8" cy="84.6" r="1.4"/><circle cx="400.8" cy="103.4" r="1.4"/><circle cx="393.3" cy="102.4" r="1.4"/><circle cx="407.7" cy="113.8" r="1.4"/><circle cx="390.2" cy="111.4" r="1.4"/><circle cx="364.5" cy="138.0" r="1.4"/><circle cx="411.2" cy="104.9" r="1.4"/><circle cx="376.8" cy="109.0" r="1.4"/><circle cx="373.8" cy="111.9" r="1.4"/><circle cx="381.0" cy="109.2" r="1.4"/><circle cx="437.5" cy="87.3" r="1.4"/><circle cx="415.1" cy="87.4" r="1.4"/><circle cx="437.8" cy="65.8" r="1.4"/><circle cx="354.6" cy="124.6" r="1.4"/><circle cx="351.7" cy="143.7" r="1.4"/><circle cx="456.4" cy="77.5" r="1.4"/><circle cx="402.2" cy="90.0" r="1.4"/><circle cx="421.7" cy="86.2" r="1.4"/><circle cx="458.5" cy="62.9" r="1.4"/><circle cx="383.9" cy="118.2" r="1.4"/><circle cx="421.2" cy="87.6" r="1.4"/><circle cx="379.2" cy="110.5" r="1.4"/><circle cx="368.4" cy="123.8" r="1.4"/><circle cx="463.7" cy="82.9" r="1.4"/><circle cx="446.6" cy="79.8" r="1.4"/><circle cx="401.3" cy="87.6" r="1.4"/><circle cx="475.0" cy="74.5" r="1.4"/><circle cx="385.8" cy="105.8" r="1.4"/><circle cx="388.7" cy="98.8" r="1.4"/><circle cx="389.3" cy="105.1" r="1.4"/><circle cx="425.0" cy="72.3" r="1.4"/><circle cx="362.1" cy="127.4" r="1.4"/><circle cx="464.7" cy="75.5" r="1.4"/><circle cx="417.3" cy="77.8" r="1.4"/><circle cx="380.8" cy="102.5" r="1.4"/><circle cx="401.5" cy="93.2" r="1.4"/><circle cx="401.9" cy="102.8" r="1.4"/><circle cx="405.2" cy="100.0" r="1.4"/><circle cx="395.1" cy="125.2" r="1.4"/><circle cx="345.3" cy="135.1" r="1.4"/><circle cx="395.0" cy="122.8" r="1.4"/><circle cx="337.7" cy="146.6" r="1.4"/><circle cx="371.3" cy="104.9" r="1.4"/><circle cx="342.1" cy="144.2" r="1.4"/><circle cx="380.9" cy="112.3" r="1.4"/><circle cx="464.7" cy="59.0" r="1.4"/><circle cx="407.6" cy="86.2" r="1.4"/><circle cx="443.2" cy="80.4" r="1.4"/><circle cx="412.2" cy="93.8" r="1.4"/><circle cx="429.5" cy="90.5" r="1.4"/><circle cx="457.0" cy="80.4" r="1.4"/><circle cx="377.1" cy="111.1" r="1.4"/><circle cx="394.1" cy="106.8" r="1.4"/><circle cx="397.4" cy="105.5" r="1.4"/><circle cx="397.4" cy="122.9" r="1.4"/><circle cx="342.4" cy="139.2" r="1.4"/><circle cx="374.3" cy="107.3" r="1.4"/><circle cx="416.7" cy="88.6" r="1.4"/><circle cx="455.8" cy="75.2" r="1.4"/><circle cx="369.8" cy="126.4" r="1.4"/><circle cx="420.4" cy="84.9" r="1.4"/><circle cx="396.1" cy="93.7" r="1.4"/><circle cx="373.8" cy="113.8" r="1.4"/><circle cx="417.4" cy="115.3" r="1.4"/><circle cx="447.3" cy="84.2" r="1.4"/><circle cx="427.5" cy="69.0" r="1.4"/><circle cx="358.8" cy="145.9" r="1.4"/><circle cx="406.6" cy="92.5" r="1.4"/><circle cx="415.1" cy="84.6" r="1.4"/><circle cx="388.1" cy="98.9" r="1.4"/><circle cx="473.3" cy="74.2" r="1.4"/><circle cx="385.5" cy="100.9" r="1.4"/><circle cx="392.1" cy="100.4" r="1.4"/><circle cx="367.7" cy="130.5" r="1.4"/><circle cx="416.0" cy="83.2" r="1.4"/><circle cx="403.8" cy="103.1" r="1.4"/><circle cx="346.9" cy="140.9" r="1.4"/><circle cx="420.2" cy="78.7" r="1.4"/><circle cx="458.5" cy="80.4" r="1.4"/><circle cx="454.3" cy="71.2" r="1.4"/><circle cx="395.4" cy="96.5" r="1.4"/><circle cx="396.0" cy="86.9" r="1.4"/><circle cx="414.3" cy="93.2" r="1.4"/><circle cx="369.7" cy="110.4" r="1.4"/><circle cx="463.9" cy="79.2" r="1.4"/><circle cx="438.0" cy="79.1" r="1.4"/><circle cx="437.5" cy="79.0" r="1.4"/><circle cx="368.6" cy="133.8" r="1.4"/><circle cx="433.9" cy="68.0" r="1.4"/><circle cx="405.5" cy="106.0" r="1.4"/><circle cx="436.1" cy="62.3" r="1.4"/><circle cx="431.7" cy="92.7" r="1.4"/><circle cx="392.4" cy="141.2" r="1.4"/><circle cx="397.1" cy="132.9" r="1.4"/><circle cx="401.9" cy="130.5" r="1.4"/><circle cx="407.9" cy="128.1" r="1.4"/><circle cx="413.8" cy="125.7" r="1.4"/><circle cx="419.8" cy="125.7" r="1.4"/><circle cx="426.9" cy="122.1" r="1.4"/><circle cx="428.1" cy="115.0" r="1.4"/><circle cx="423.3" cy="111.4" r="1.4"/><circle cx="432.9" cy="109.0" r="1.4"/><circle cx="440.0" cy="106.7" r="1.4"/><circle cx="444.8" cy="103.1" r="1.4"/><circle cx="435.2" cy="103.1" r="1.4"/><circle cx="457.9" cy="96.7" r="1.4"/><circle cx="449.5" cy="95.5" r="1.4"/><circle cx="444.8" cy="103.8" r="1.4"/><circle cx="441.2" cy="107.4" r="1.4"/><circle cx="467.4" cy="47.9" r="1.4"/><circle cx="468.6" cy="53.8" r="1.4"/><circle cx="463.8" cy="58.6" r="1.4"/><circle cx="411.7" cy="52.8" r="1.4"/><circle cx="422.8" cy="52.8" r="1.4"/><circle cx="391.0" cy="71.4" r="1.4"/><circle cx="361.0" cy="97.1" r="1.4"/><circle cx="353.8" cy="158.1" r="1.4"/><circle cx="336.0" cy="154.5" r="1.4"/><circle cx="334.8" cy="149.8" r="1.4"/><circle cx="478.1" cy="66.9" r="1.4"/><circle cx="485.2" cy="65.7" r="1.4"/><circle cx="487.6" cy="70.5" r="1.4"/><circle cx="484.0" cy="74.0" r="1.4"/><circle cx="478.1" cy="77.6" r="1.4"/><circle cx="475.7" cy="83.6" r="1.4"/><circle cx="468.6" cy="88.3" r="1.4"/></g>
<line x1="334.8" y1="138.8" x2="487.8" y2="46.4" stroke="#944631" stroke-width="0.9" opacity="0.65"/>
<rect x="52" y="7.5" width="203.5" height="184.0" fill="none" stroke="#333" stroke-width="1"/>
<rect x="322.6" y="7.5" width="210.0" height="188.8" fill="none" stroke="#333" stroke-width="1"/>
<path d="M52.0,191.5v3.5M52.0,7.5v2.5M86.0,191.5v3.5M86.0,7.5v2.5M120.0,191.5v3.5M120.0,7.5v2.5M154.0,191.5v3.5M154.0,7.5v2.5M188.0,191.5v3.5M188.0,7.5v2.5M222.0,191.5v3.5M222.0,7.5v2.5M256.0,191.5v3.5M256.0,7.5v2.5M69.0,191.5v2M69.0,7.5v1.5M103.0,191.5v2M103.0,7.5v1.5M137.0,191.5v2M137.0,7.5v1.5M171.0,191.5v2M171.0,7.5v1.5M205.0,191.5v2M205.0,7.5v1.5M239.0,191.5v2M239.0,7.5v1.5M52,7.5h-3.5M255.5,7.5h-2.5M52,38.2h-3.5M255.5,38.2h-2.5M52,68.8h-3.5M255.5,68.8h-2.5M52,99.5h-3.5M255.5,99.5h-2.5M52,130.2h-3.5M255.5,130.2h-2.5M52,160.8h-3.5M255.5,160.8h-2.5M52,191.5h-3.5M255.5,191.5h-2.5M52,22.8h-2M255.5,22.8h-1.5M52,53.5h-2M255.5,53.5h-1.5M52,84.2h-2M255.5,84.2h-1.5M52,114.8h-2M255.5,114.8h-1.5M52,145.5h-2M255.5,145.5h-1.5M52,176.2h-2M255.5,176.2h-1.5" stroke="#333" stroke-width="1" fill="none"/>
<path d="M323.0,196.3v3.5M323.0,7.5v2.5M365.0,196.3v3.5M365.0,7.5v2.5M407.0,196.3v3.5M407.0,7.5v2.5M449.0,196.3v3.5M449.0,7.5v2.5M491.0,196.3v3.5M491.0,7.5v2.5M533.0,196.3v3.5M533.0,7.5v2.5M344.0,196.3v2M344.0,7.5v1.5M386.0,196.3v2M386.0,7.5v1.5M428.0,196.3v2M428.0,7.5v1.5M470.0,196.3v2M470.0,7.5v1.5M512.0,196.3v2M512.0,7.5v1.5M322.6,7.5h-3.5M532.6,7.5h-2.5M322.6,45.3h-3.5M532.6,45.3h-2.5M322.6,83.0h-3.5M532.6,83.0h-2.5M322.6,120.8h-3.5M532.6,120.8h-2.5M322.6,158.5h-3.5M532.6,158.5h-2.5M322.6,196.3h-3.5M532.6,196.3h-2.5M322.6,26.4h-2M532.6,26.4h-1.5M322.6,64.1h-2M532.6,64.1h-1.5M322.6,101.9h-2M532.6,101.9h-1.5M322.6,139.7h-2M532.6,139.7h-1.5M322.6,177.4h-2M532.6,177.4h-1.5" stroke="#333" stroke-width="1" fill="none"/>
<text x="43.9" y="10.5" font-family="Liberation Sans, sans-serif" font-size="7" font-weight="bold" fill="#1a1a1a" stroke="#1a1a1a" stroke-width="0.4" text-anchor="end">1.2x10</text>
<text x="44.3" y="7.9" font-family="Liberation Sans, sans-serif" font-size="4.3" font-weight="bold" fill="#1a1a1a" stroke="#1a1a1a" stroke-width="0.25">4</text>
<text x="43.9" y="41.2" font-family="Liberation Sans, sans-serif" font-size="7" font-weight="bold" fill="#1a1a1a" stroke="#1a1a1a" stroke-width="0.4" text-anchor="end">1.1x10</text>
<text x="44.3" y="38.6" font-family="Liberation Sans, sans-serif" font-size="4.3" font-weight="bold" fill="#1a1a1a" stroke="#1a1a1a" stroke-width="0.25">4</text>
<text x="43.9" y="71.8" font-family="Liberation Sans, sans-serif" font-size="7" font-weight="bold" fill="#1a1a1a" stroke="#1a1a1a" stroke-width="0.4" text-anchor="end">1.0x10</text>
<text x="44.3" y="69.2" font-family="Liberation Sans, sans-serif" font-size="4.3" font-weight="bold" fill="#1a1a1a" stroke="#1a1a1a" stroke-width="0.25">4</text>
<text x="43.9" y="102.5" font-family="Liberation Sans, sans-serif" font-size="7" font-weight="bold" fill="#1a1a1a" stroke="#1a1a1a" stroke-width="0.4" text-anchor="end">9.0x10</text>
<text x="44.3" y="99.9" font-family="Liberation Sans, sans-serif" font-size="4.3" font-weight="bold" fill="#1a1a1a" stroke="#1a1a1a" stroke-width="0.25">3</text>
<text x="43.9" y="133.2" font-family="Liberation Sans, sans-serif" font-size="7" font-weight="bold" fill="#1a1a1a" stroke="#1a1a1a" stroke-width="0.4" text-anchor="end">8.0x10</text>
<text x="44.3" y="130.6" font-family="Liberation Sans, sans-serif" font-size="4.3" font-weight="bold" fill="#1a1a1a" stroke="#1a1a1a" stroke-width="0.25">3</text>
<text x="43.9" y="163.8" font-family="Liberation Sans, sans-serif" font-size="7" font-weight="bold" fill="#1a1a1a" stroke="#1a1a1a" stroke-width="0.4" text-anchor="end">7.0x10</text>
<text x="44.3" y="161.2" font-family="Liberation Sans, sans-serif" font-size="4.3" font-weight="bold" fill="#1a1a1a" stroke="#1a1a1a" stroke-width="0.25">3</text>
<text x="43.9" y="194.5" font-family="Liberation Sans, sans-serif" font-size="7" font-weight="bold" fill="#1a1a1a" stroke="#1a1a1a" stroke-width="0.4" text-anchor="end">6.0x10</text>
<text x="44.3" y="191.9" font-family="Liberation Sans, sans-serif" font-size="4.3" font-weight="bold" fill="#1a1a1a" stroke="#1a1a1a" stroke-width="0.25">3</text>
<text x="61.3" y="205.5" font-family="Liberation Sans, sans-serif" font-size="7" font-weight="bold" fill="#1a1a1a" stroke="#1a1a1a" stroke-width="0.4" text-anchor="end">4.8x10</text>
<text x="61.7" y="202.9" font-family="Liberation Sans, sans-serif" font-size="4.3" font-weight="bold" fill="#1a1a1a" stroke="#1a1a1a" stroke-width="0.25">3</text>
<text x="95.3" y="205.5" font-family="Liberation Sans, sans-serif" font-size="7" font-weight="bold" fill="#1a1a1a" stroke="#1a1a1a" stroke-width="0.4" text-anchor="end">5.6x10</text>
<text x="95.7" y="202.9" font-family="Liberation Sans, sans-serif" font-size="4.3" font-weight="bold" fill="#1a1a1a" stroke="#1a1a1a" stroke-width="0.25">3</text>
<text x="129.3" y="205.5" font-family="Liberation Sans, sans-serif" font-size="7" font-weight="bold" fill="#1a1a1a" stroke="#1a1a1a" stroke-width="0.4" text-anchor="end">6.4x10</text>
<text x="129.7" y="202.9" font-family="Liberation Sans, sans-serif" font-size="4.3" font-weight="bold" fill="#1a1a1a" stroke="#1a1a1a" stroke-width="0.25">3</text>
<text x="163.3" y="205.5" font-family="Liberation Sans, sans-serif" font-size="7" font-weight="bold" fill="#1a1a1a" stroke="#1a1a1a" stroke-width="0.4" text-anchor="end">7.2x10</text>
<text x="163.7" y="202.9" font-family="Liberation Sans, sans-serif" font-size="4.3" font-weight="bold" fill="#1a1a1a" stroke="#1a1a1a" stroke-width="0.25">3</text>
<text x="197.3" y="205.5" font-family="Liberation Sans, sans-serif" font-size="7" font-weight="bold" fill="#1a1a1a" stroke="#1a1a1a" stroke-width="0.4" text-anchor="end">8.0x10</text>
<text x="197.7" y="202.9" font-family="Liberation Sans, sans-serif" font-size="4.3" font-weight="bold" fill="#1a1a1a" stroke="#1a1a1a" stroke-width="0.25">3</text>
<text x="231.3" y="205.5" font-family="Liberation Sans, sans-serif" font-size="7" font-weight="bold" fill="#1a1a1a" stroke="#1a1a1a" stroke-width="0.4" text-anchor="end">8.8x10</text>
<text x="231.7" y="202.9" font-family="Liberation Sans, sans-serif" font-size="4.3" font-weight="bold" fill="#1a1a1a" stroke="#1a1a1a" stroke-width="0.25">3</text>
<text x="265.3" y="205.5" font-family="Liberation Sans, sans-serif" font-size="7" font-weight="bold" fill="#1a1a1a" stroke="#1a1a1a" stroke-width="0.4" text-anchor="end">9.6x10</text>
<text x="265.7" y="202.9" font-family="Liberation Sans, sans-serif" font-size="4.3" font-weight="bold" fill="#1a1a1a" stroke="#1a1a1a" stroke-width="0.25">3</text>
<text x="317.4" y="9.4" font-family="Liberation Sans, sans-serif" font-size="7" font-weight="bold" fill="#1a1a1a" stroke="#1a1a1a" stroke-width="0.4" text-anchor="end">16000</text>
<text x="317.4" y="47.2" font-family="Liberation Sans, sans-serif" font-size="7" font-weight="bold" fill="#1a1a1a" stroke="#1a1a1a" stroke-width="0.4" text-anchor="end">14000</text>
<text x="317.4" y="84.9" font-family="Liberation Sans, sans-serif" font-size="7" font-weight="bold" fill="#1a1a1a" stroke="#1a1a1a" stroke-width="0.4" text-anchor="end">12000</text>
<text x="317.4" y="122.7" font-family="Liberation Sans, sans-serif" font-size="7" font-weight="bold" fill="#1a1a1a" stroke="#1a1a1a" stroke-width="0.4" text-anchor="end">10000</text>
<text x="317.4" y="160.4" font-family="Liberation Sans, sans-serif" font-size="7" font-weight="bold" fill="#1a1a1a" stroke="#1a1a1a" stroke-width="0.4" text-anchor="end">8000</text>
<text x="317.4" y="198.2" font-family="Liberation Sans, sans-serif" font-size="7" font-weight="bold" fill="#1a1a1a" stroke="#1a1a1a" stroke-width="0.4" text-anchor="end">6000</text>
<text x="323.0" y="207.9" font-family="Liberation Sans, sans-serif" font-size="7" font-weight="bold" fill="#1a1a1a" stroke="#1a1a1a" stroke-width="0.4" text-anchor="middle">6000</text>
<text x="365.0" y="207.9" font-family="Liberation Sans, sans-serif" font-size="7" font-weight="bold" fill="#1a1a1a" stroke="#1a1a1a" stroke-width="0.4" text-anchor="middle">8000</text>
<text x="407.0" y="207.9" font-family="Liberation Sans, sans-serif" font-size="7" font-weight="bold" fill="#1a1a1a" stroke="#1a1a1a" stroke-width="0.4" text-anchor="middle">10000</text>
<text x="449.0" y="207.9" font-family="Liberation Sans, sans-serif" font-size="7" font-weight="bold" fill="#1a1a1a" stroke="#1a1a1a" stroke-width="0.4" text-anchor="middle">12000</text>
<text x="491.0" y="207.9" font-family="Liberation Sans, sans-serif" font-size="7" font-weight="bold" fill="#1a1a1a" stroke="#1a1a1a" stroke-width="0.4" text-anchor="middle">14000</text>
<text x="533.0" y="207.9" font-family="Liberation Sans, sans-serif" font-size="7" font-weight="bold" fill="#1a1a1a" stroke="#1a1a1a" stroke-width="0.4" text-anchor="middle">16000</text>
<text transform="translate(15.7,117.6) rotate(-90)" font-family="Liberation Sans, sans-serif" font-size="10" font-weight="bold" fill="#1a1a1a" stroke="#1a1a1a" stroke-width="0.12">CPC<tspan font-size="6.7" dy="2.3" dx="0.8" stroke-width="0.4">PNC</tspan></text>
<text transform="translate(291.9,119.3) rotate(-90)" font-family="Liberation Sans, sans-serif" font-size="10" font-weight="bold" fill="#1a1a1a" stroke="#1a1a1a" stroke-width="0.12">CPC<tspan font-size="6.7" dy="2.3" dx="0.8" stroke-width="0.4">PNC</tspan></text>
<text x="143.2" y="222.1" font-family="Liberation Sans, sans-serif" font-size="10" font-weight="bold" fill="#1a1a1a" stroke="#1a1a1a" stroke-width="0.12">UF3<tspan font-size="6.3" dy="2.7" stroke-width="0.4">PNC</tspan></text>
<text x="412.3" y="224.8" font-family="Liberation Sans, sans-serif" font-size="10" font-weight="bold" fill="#1a1a1a" stroke="#1a1a1a" stroke-width="0.12">UF5<tspan font-size="6.3" dy="2.7" stroke-width="0.4">PNC</tspan></text>
<text x="129.5" y="244.3" font-family="Liberation Serif, serif" font-size="12.5" font-weight="bold" fill="#1a1a1a">(a)</text>
<text x="403.4" y="244.3" font-family="Liberation Serif, serif" font-size="12.5" font-weight="bold" fill="#1a1a1a">(b)</text>
<circle cx="187.1" cy="16.2" r="1.1" fill="#000"/>
<text x="198.6" y="19.1" font-family="Liberation Sans, sans-serif" font-size="8.4" fill="#222" textLength="43.4" lengthAdjust="spacingAndGlyphs">RAW DATA</text>
<text x="198.6" y="28.6" font-family="Liberation Sans, sans-serif" font-size="8.4" fill="#222" textLength="43.4" lengthAdjust="spacingAndGlyphs">LINEAR FIT</text>
<line x1="177.4" y1="26.3" x2="196.5" y2="26.3" stroke="#f4c6c0" stroke-width="2.6" opacity="0.6"/>
<line x1="177.4" y1="26.3" x2="196.5" y2="26.3" stroke="#944631" stroke-width="1"/>
<circle cx="466.5" cy="18.8" r="1.1" fill="#000"/>
<text x="477.6" y="21.3" font-family="Liberation Sans, sans-serif" font-size="8.4" fill="#222" textLength="42.5" lengthAdjust="spacingAndGlyphs">RAW DATA</text>
<text x="477.6" y="31.9" font-family="Liberation Sans, sans-serif" font-size="8.4" fill="#222" textLength="42.2" lengthAdjust="spacingAndGlyphs">LINEAR FIT</text>
<line x1="457.5" y1="29.6" x2="475.4" y2="29.6" stroke="#f4c6c0" stroke-width="2.6" opacity="0.6"/>
<line x1="457.5" y1="29.6" x2="475.4" y2="29.6" stroke="#944631" stroke-width="1"/>
<rect x="157.6" y="129.3" width="94.1" height="57.0" fill="#fff" stroke="#999" stroke-width="0.8"/>
<line x1="157.6" y1="129.3" x2="251.7" y2="129.3" stroke="#777" stroke-width="1"/>
<path d="M157.6,135.63H251.7M157.6,141.97H251.7M157.6,148.30H251.7M157.6,154.63H251.7M157.6,160.97H251.7M157.6,167.30H251.7M157.6,173.63H251.7M157.6,179.97H251.7M207.6,129.3V186.3" stroke="#ddd" stroke-width="0.7" fill="none"/>
<text x="158.8" y="134.33" font-family="Liberation Sans, sans-serif" font-size="4.8" fill="#4a4a4a" stroke="#4a4a4a" stroke-width="0.1" textLength="16.58" lengthAdjust="spacingAndGlyphs">Equation</text>
<text x="219.61" y="134.33" font-family="Liberation Sans, sans-serif" font-size="4.8" fill="#4a4a4a" stroke="#4a4a4a" stroke-width="0.1" textLength="20.08" lengthAdjust="spacingAndGlyphs">y = a + b*x</text>
<text x="158.8" y="140.67" font-family="Liberation Sans, sans-serif" font-size="4.8" fill="#4a4a4a" stroke="#4a4a4a" stroke-width="0.1" textLength="7.24" lengthAdjust="spacingAndGlyphs">Plot</text>
<text x="225.22" y="140.67" font-family="Liberation Sans, sans-serif" font-size="4.8" fill="#4a4a4a" stroke="#4a4a4a" stroke-width="0.1" textLength="8.87" lengthAdjust="spacingAndGlyphs">CPC</text>
<text x="158.8" y="147.00" font-family="Liberation Sans, sans-serif" font-size="4.8" fill="#4a4a4a" stroke="#4a4a4a" stroke-width="0.1" textLength="13.00" lengthAdjust="spacingAndGlyphs">Weight</text>
<text x="217.08" y="147.00" font-family="Liberation Sans, sans-serif" font-size="4.8" fill="#4a4a4a" stroke="#4a4a4a" stroke-width="0.1" textLength="25.14" lengthAdjust="spacingAndGlyphs">No Weighting</text>
<text x="158.8" y="153.33" font-family="Liberation Sans, sans-serif" font-size="4.8" fill="#4a4a4a" stroke="#4a4a4a" stroke-width="0.1" textLength="16.34" lengthAdjust="spacingAndGlyphs">Intercept</text>
<text x="209.12" y="153.33" font-family="Liberation Sans, sans-serif" font-size="4.8" fill="#4a4a4a" stroke="#4a4a4a" stroke-width="0.1" textLength="41.07" lengthAdjust="spacingAndGlyphs">-1717.9679 &#177; 78.2581</text>
<text x="158.8" y="159.67" font-family="Liberation Sans, sans-serif" font-size="4.8" fill="#4a4a4a" stroke="#4a4a4a" stroke-width="0.1" textLength="10.74" lengthAdjust="spacingAndGlyphs">Slope</text>
<text x="212.15" y="159.67" font-family="Liberation Sans, sans-serif" font-size="4.8" fill="#4a4a4a" stroke="#4a4a4a" stroke-width="0.1" textLength="35.00" lengthAdjust="spacingAndGlyphs">1.48991 &#177; 0.01091</text>
<text x="158.8" y="166.00" font-family="Liberation Sans, sans-serif" font-size="4.8" fill="#4a4a4a" stroke="#4a4a4a" stroke-width="0.1" textLength="47.62" lengthAdjust="spacingAndGlyphs">Residual Sum of Squares</text>
<text x="219.49" y="166.00" font-family="Liberation Sans, sans-serif" font-size="4.8" fill="#4a4a4a" stroke="#4a4a4a" stroke-width="0.1" textLength="20.32" lengthAdjust="spacingAndGlyphs">3.75220E8</text>
<text x="158.8" y="172.33" font-family="Liberation Sans, sans-serif" font-size="4.8" fill="#4a4a4a" stroke="#4a4a4a" stroke-width="0.1" textLength="21.11" lengthAdjust="spacingAndGlyphs">Pearson's r</text>
<text x="222.06" y="172.33" font-family="Liberation Sans, sans-serif" font-size="4.8" fill="#4a4a4a" stroke="#4a4a4a" stroke-width="0.1" textLength="15.18" lengthAdjust="spacingAndGlyphs">0.92042</text>
<text x="158.8" y="178.67" font-family="Liberation Sans, sans-serif" font-size="4.8" fill="#4a4a4a" stroke="#4a4a4a" stroke-width="0.1" textLength="31.27" lengthAdjust="spacingAndGlyphs">R-Square (COD)</text>
<text x="222.06" y="178.67" font-family="Liberation Sans, sans-serif" font-size="4.8" fill="#4a4a4a" stroke="#4a4a4a" stroke-width="0.1" textLength="15.18" lengthAdjust="spacingAndGlyphs">0.85025</text>
<text x="158.8" y="185.00" font-family="Liberation Sans, sans-serif" font-size="4.8" fill="#4a4a4a" stroke="#4a4a4a" stroke-width="0.1" textLength="26.38" lengthAdjust="spacingAndGlyphs">Adj. R-Square</text>
<text x="223.23" y="185.00" font-family="Liberation Sans, sans-serif" font-size="4.8" fill="#4a4a4a" stroke="#4a4a4a" stroke-width="0.1" textLength="12.84" lengthAdjust="spacingAndGlyphs">0.8502</text>
<rect x="427.6" y="130.6" width="99.1" height="59.7" fill="#fff" stroke="#999" stroke-width="0.8"/>
<line x1="427.6" y1="130.6" x2="526.7" y2="130.6" stroke="#777" stroke-width="1"/>
<path d="M427.6,137.23H526.7M427.6,143.87H526.7M427.6,150.50H526.7M427.6,157.13H526.7M427.6,163.77H526.7M427.6,170.40H526.7M427.6,177.03H526.7M427.6,183.67H526.7M479,130.6V190.3" stroke="#ddd" stroke-width="0.7" fill="none"/>
<text x="428.8" y="135.93" font-family="Liberation Sans, sans-serif" font-size="4.8" fill="#4a4a4a" stroke="#4a4a4a" stroke-width="0.1" textLength="16.58" lengthAdjust="spacingAndGlyphs">Equation</text>
<text x="492.81" y="135.93" font-family="Liberation Sans, sans-serif" font-size="4.8" fill="#4a4a4a" stroke="#4a4a4a" stroke-width="0.1" textLength="20.08" lengthAdjust="spacingAndGlyphs">y = a + b*x</text>
<text x="428.8" y="142.57" font-family="Liberation Sans, sans-serif" font-size="4.8" fill="#4a4a4a" stroke="#4a4a4a" stroke-width="0.1" textLength="7.24" lengthAdjust="spacingAndGlyphs">Plot</text>
<text x="498.42" y="142.57" font-family="Liberation Sans, sans-serif" font-size="4.8" fill="#4a4a4a" stroke="#4a4a4a" stroke-width="0.1" textLength="8.87" lengthAdjust="spacingAndGlyphs">CPC</text>
<text x="428.8" y="149.20" font-family="Liberation Sans, sans-serif" font-size="4.8" fill="#4a4a4a" stroke="#4a4a4a" stroke-width="0.1" textLength="13.00" lengthAdjust="spacingAndGlyphs">Weight</text>
<text x="490.28" y="149.20" font-family="Liberation Sans, sans-serif" font-size="4.8" fill="#4a4a4a" stroke="#4a4a4a" stroke-width="0.1" textLength="25.14" lengthAdjust="spacingAndGlyphs">No Weighting</text>
<text x="428.8" y="155.83" font-family="Liberation Sans, sans-serif" font-size="4.8" fill="#4a4a4a" stroke="#4a4a4a" stroke-width="0.1" textLength="16.34" lengthAdjust="spacingAndGlyphs">Intercept</text>
<text x="481.85" y="155.83" font-family="Liberation Sans, sans-serif" font-size="4.8" fill="#4a4a4a" stroke="#4a4a4a" stroke-width="0.1" textLength="42.01" lengthAdjust="spacingAndGlyphs">4695.17002 &#177; 76.4513</text>
<text x="428.8" y="162.47" font-family="Liberation Sans, sans-serif" font-size="4.8" fill="#4a4a4a" stroke="#4a4a4a" stroke-width="0.1" textLength="10.74" lengthAdjust="spacingAndGlyphs">Slope</text>
<text x="485.51" y="162.47" font-family="Liberation Sans, sans-serif" font-size="4.8" fill="#4a4a4a" stroke="#4a4a4a" stroke-width="0.1" textLength="34.69" lengthAdjust="spacingAndGlyphs">0.67311 &#177; 0.00793</text>
<text x="428.8" y="169.10" font-family="Liberation Sans, sans-serif" font-size="4.8" fill="#4a4a4a" stroke="#4a4a4a" stroke-width="0.1" textLength="47.62" lengthAdjust="spacingAndGlyphs">Residual Sum of Squares</text>
<text x="492.69" y="169.10" font-family="Liberation Sans, sans-serif" font-size="4.8" fill="#4a4a4a" stroke="#4a4a4a" stroke-width="0.1" textLength="20.32" lengthAdjust="spacingAndGlyphs">1.01591E9</text>
<text x="428.8" y="175.73" font-family="Liberation Sans, sans-serif" font-size="4.8" fill="#4a4a4a" stroke="#4a4a4a" stroke-width="0.1" textLength="21.11" lengthAdjust="spacingAndGlyphs">Pearson's r</text>
<text x="495.26" y="175.73" font-family="Liberation Sans, sans-serif" font-size="4.8" fill="#4a4a4a" stroke="#4a4a4a" stroke-width="0.1" textLength="15.18" lengthAdjust="spacingAndGlyphs">0.85061</text>
<text x="428.8" y="182.37" font-family="Liberation Sans, sans-serif" font-size="4.8" fill="#4a4a4a" stroke="#4a4a4a" stroke-width="0.1" textLength="31.27" lengthAdjust="spacingAndGlyphs">R-Square (COD)</text>
<text x="495.26" y="182.37" font-family="Liberation Sans, sans-serif" font-size="4.8" fill="#4a4a4a" stroke="#4a4a4a" stroke-width="0.1" textLength="15.18" lengthAdjust="spacingAndGlyphs">0.72353</text>
<text x="428.8" y="189.00" font-family="Liberation Sans, sans-serif" font-size="4.8" fill="#4a4a4a" stroke="#4a4a4a" stroke-width="0.1" textLength="26.38" lengthAdjust="spacingAndGlyphs">Adj. R-Square</text>
<text x="495.26" y="189.00" font-family="Liberation Sans, sans-serif" font-size="4.8" fill="#4a4a4a" stroke="#4a4a4a" stroke-width="0.1" textLength="15.18" lengthAdjust="spacingAndGlyphs">0.72343</text>
</svg>
</body></html>
